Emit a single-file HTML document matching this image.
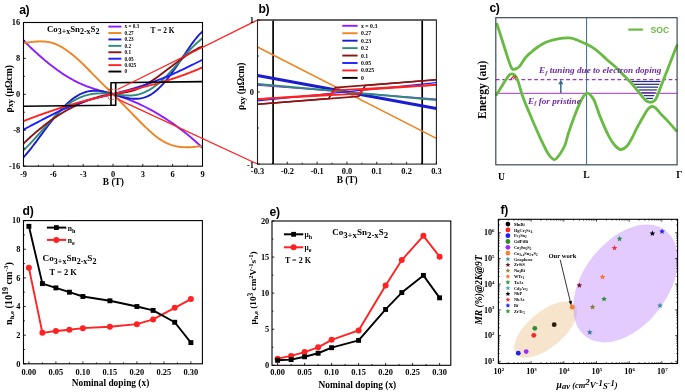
<!DOCTYPE html>
<html><head><meta charset="utf-8"><style>
html,body{margin:0;padding:0;background:#fff;width:685px;height:392px;overflow:hidden;}
svg{display:block;font-family:"Liberation Serif",serif;will-change:transform;}
</style></head><body>
<svg width="685" height="392" viewBox="0 0 685 392">
<defs>
<clipPath id="clipa"><rect x="23.5" y="22.5" width="179" height="143.7"/></clipPath>
<clipPath id="clipb"><rect x="257.5" y="20" width="178.9" height="144.1"/></clipPath>
</defs>
<rect width="685" height="392" fill="#fff"/>
<text x="19.2" y="14.3" font-family="'Liberation Sans', sans-serif" font-size="12.2" font-weight="bold" font-style="normal" text-anchor="start" fill="#000" letter-spacing="-0.4">a)</text>
<g clip-path="url(#clipa)">
<path d="M23.5,40.47 L24.49,41.47 L25.49,42.47 L26.48,43.45 L27.48,44.43 L28.47,45.4 L29.47,46.37 L30.46,47.32 L31.46,48.27 L32.45,49.21 L33.44,50.15 L34.44,51.07 L35.43,51.99 L36.43,52.9 L37.42,53.8 L38.42,54.7 L39.41,55.58 L40.41,56.46 L41.4,57.33 L42.39,58.19 L43.39,59.04 L44.38,59.88 L45.38,60.71 L46.37,61.54 L47.37,62.35 L48.36,63.16 L49.36,63.96 L50.35,64.75 L51.34,65.52 L52.34,66.29 L53.33,67.05 L54.33,67.8 L55.32,68.54 L56.32,69.27 L57.31,69.99 L58.31,70.69 L59.3,71.39 L60.29,72.08 L61.29,72.76 L62.28,73.43 L63.28,74.08 L64.27,74.73 L65.27,75.36 L66.26,75.98 L67.26,76.6 L68.25,77.2 L69.24,77.79 L70.24,78.37 L71.23,78.93 L72.23,79.49 L73.22,80.03 L74.22,80.56 L75.21,81.08 L76.21,81.59 L77.2,82.09 L78.19,82.57 L79.19,83.04 L80.18,83.5 L81.18,83.95 L82.17,84.38 L83.17,84.8 L84.16,85.22 L85.16,85.62 L86.15,86.01 L87.14,86.39 L88.14,86.76 L89.13,87.12 L90.13,87.47 L91.12,87.82 L92.12,88.16 L93.11,88.49 L94.11,88.81 L95.1,89.13 L96.09,89.45 L97.09,89.75 L98.08,90.06 L99.08,90.36 L100.07,90.65 L101.07,90.94 L102.06,91.23 L103.06,91.52 L104.05,91.8 L105.04,92.09 L106.04,92.37 L107.03,92.65 L108.03,92.93 L109.02,93.22 L110.02,93.5 L111.01,93.78 L112.01,94.07 L113,94.36 L113.99,94.65 L114.99,94.95 L115.98,95.24 L116.98,95.55 L117.97,95.85 L118.97,96.17 L119.96,96.48 L120.96,96.81 L121.95,97.14 L122.94,97.48 L123.94,97.82 L124.93,98.17 L125.93,98.53 L126.92,98.9 L127.92,99.27 L128.91,99.65 L129.91,100.04 L130.9,100.44 L131.89,100.84 L132.89,101.25 L133.88,101.67 L134.88,102.1 L135.87,102.53 L136.87,102.97 L137.86,103.41 L138.86,103.87 L139.85,104.33 L140.84,104.8 L141.84,105.27 L142.83,105.75 L143.83,106.24 L144.82,106.74 L145.82,107.24 L146.81,107.75 L147.81,108.27 L148.8,108.79 L149.79,109.32 L150.79,109.86 L151.78,110.4 L152.78,110.95 L153.77,111.51 L154.77,112.08 L155.76,112.65 L156.76,113.23 L157.75,113.81 L158.74,114.4 L159.74,115 L160.73,115.61 L161.73,116.22 L162.72,116.84 L163.72,117.46 L164.71,118.09 L165.71,118.73 L166.7,119.38 L167.69,120.03 L168.69,120.69 L169.68,121.35 L170.68,122.02 L171.67,122.7 L172.67,123.39 L173.66,124.08 L174.66,124.78 L175.65,125.49 L176.64,126.21 L177.64,126.93 L178.63,127.66 L179.63,128.4 L180.62,129.15 L181.62,129.91 L182.61,130.67 L183.61,131.45 L184.6,132.23 L185.59,133.02 L186.59,133.82 L187.58,134.63 L188.58,135.44 L189.57,136.27 L190.57,137.11 L191.56,137.95 L192.56,138.81 L193.55,139.67 L194.54,140.54 L195.54,141.43 L196.53,142.32 L197.53,143.23 L198.52,144.14 L199.52,145.07 L200.51,146 L201.51,146.95 L202.5,147.9 L202.5,147.9" stroke="#8f1cff" stroke-width="1.9" fill="none" stroke-linejoin="round"/>
<path d="M23.5,42.96 L24.49,42.84 L25.49,42.72 L26.48,42.6 L27.48,42.47 L28.47,42.35 L29.47,42.23 L30.46,42.11 L31.46,42 L32.45,41.9 L33.44,41.8 L34.44,41.71 L35.43,41.62 L36.43,41.55 L37.42,41.5 L38.42,41.45 L39.41,41.42 L40.41,41.41 L41.4,41.41 L42.39,41.43 L43.39,41.47 L44.38,41.53 L45.38,41.62 L46.37,41.73 L47.37,41.86 L48.36,42.02 L49.36,42.2 L50.35,42.42 L51.34,42.66 L52.34,42.93 L53.33,43.24 L54.33,43.58 L55.32,43.96 L56.32,44.36 L57.31,44.8 L58.31,45.27 L59.3,45.77 L60.29,46.3 L61.29,46.85 L62.28,47.44 L63.28,48.04 L64.27,48.68 L65.27,49.33 L66.26,50.01 L67.26,50.72 L68.25,51.44 L69.24,52.18 L70.24,52.94 L71.23,53.72 L72.23,54.52 L73.22,55.33 L74.22,56.16 L75.21,57 L76.21,57.86 L77.2,58.73 L78.19,59.62 L79.19,60.52 L80.18,61.44 L81.18,62.37 L82.17,63.32 L83.17,64.28 L84.16,65.26 L85.16,66.25 L86.15,67.24 L87.14,68.25 L88.14,69.26 L89.13,70.28 L90.13,71.29 L91.12,72.31 L92.12,73.33 L93.11,74.35 L94.11,75.36 L95.1,76.38 L96.09,77.39 L97.09,78.39 L98.08,79.4 L99.08,80.4 L100.07,81.39 L101.07,82.39 L102.06,83.38 L103.06,84.36 L104.05,85.34 L105.04,86.32 L106.04,87.3 L107.03,88.28 L108.03,89.26 L109.02,90.24 L110.02,91.22 L111.01,92.2 L112.01,93.19 L113,94.17 L113.99,95.17 L114.99,96.17 L115.98,97.17 L116.98,98.17 L117.97,99.18 L118.97,100.19 L119.96,101.2 L120.96,102.22 L121.95,103.24 L122.94,104.26 L123.94,105.28 L124.93,106.3 L125.93,107.32 L126.92,108.34 L127.92,109.37 L128.91,110.39 L129.91,111.41 L130.9,112.43 L131.89,113.45 L132.89,114.47 L133.88,115.49 L134.88,116.5 L135.87,117.51 L136.87,118.52 L137.86,119.53 L138.86,120.53 L139.85,121.53 L140.84,122.53 L141.84,123.52 L142.83,124.5 L143.83,125.48 L144.82,126.45 L145.82,127.41 L146.81,128.36 L147.81,129.3 L148.8,130.22 L149.79,131.13 L150.79,132.02 L151.78,132.9 L152.78,133.75 L153.77,134.59 L154.77,135.4 L155.76,136.2 L156.76,136.97 L157.75,137.71 L158.74,138.43 L159.74,139.12 L160.73,139.79 L161.73,140.42 L162.72,141.02 L163.72,141.59 L164.71,142.13 L165.71,142.63 L166.7,143.11 L167.69,143.55 L168.69,143.97 L169.68,144.36 L170.68,144.72 L171.67,145.06 L172.67,145.36 L173.66,145.65 L174.66,145.9 L175.65,146.14 L176.64,146.35 L177.64,146.53 L178.63,146.7 L179.63,146.84 L180.62,146.96 L181.62,147.07 L182.61,147.15 L183.61,147.22 L184.6,147.26 L185.59,147.29 L186.59,147.31 L187.58,147.3 L188.58,147.29 L189.57,147.25 L190.57,147.21 L191.56,147.15 L192.56,147.08 L193.55,146.99 L194.54,146.9 L195.54,146.8 L196.53,146.68 L197.53,146.56 L198.52,146.43 L199.52,146.29 L200.51,146.14 L201.51,145.99 L202.5,145.84 L202.5,145.84" stroke="#ef8424" stroke-width="1.9" fill="none" stroke-linejoin="round"/>
<path d="M23.5,157.24 L24.49,156.15 L25.49,155.04 L26.48,153.89 L27.48,152.72 L28.47,151.53 L29.47,150.31 L30.46,149.07 L31.46,147.82 L32.45,146.54 L33.44,145.25 L34.44,143.95 L35.43,142.63 L36.43,141.31 L37.42,139.97 L38.42,138.63 L39.41,137.28 L40.41,135.93 L41.4,134.58 L42.39,133.22 L43.39,131.87 L44.38,130.52 L45.38,129.18 L46.37,127.84 L47.37,126.51 L48.36,125.19 L49.36,123.88 L50.35,122.58 L51.34,121.3 L52.34,120.04 L53.33,118.79 L54.33,117.56 L55.32,116.35 L56.32,115.15 L57.31,113.98 L58.31,112.83 L59.3,111.7 L60.29,110.59 L61.29,109.5 L62.28,108.44 L63.28,107.4 L64.27,106.38 L65.27,105.4 L66.26,104.44 L67.26,103.5 L68.25,102.6 L69.24,101.72 L70.24,100.87 L71.23,100.06 L72.23,99.27 L73.22,98.52 L74.22,97.8 L75.21,97.12 L76.21,96.46 L77.2,95.85 L78.19,95.27 L79.19,94.72 L80.18,94.22 L81.18,93.75 L82.17,93.31 L83.17,92.92 L84.16,92.55 L85.16,92.23 L86.15,91.93 L87.14,91.67 L88.14,91.44 L89.13,91.25 L90.13,91.08 L91.12,90.95 L92.12,90.85 L93.11,90.77 L94.11,90.73 L95.1,90.71 L96.09,90.72 L97.09,90.76 L98.08,90.82 L99.08,90.91 L100.07,91.02 L101.07,91.16 L102.06,91.32 L103.06,91.51 L104.05,91.71 L105.04,91.93 L106.04,92.17 L107.03,92.42 L108.03,92.69 L109.02,92.96 L110.02,93.25 L111.01,93.54 L112.01,93.84 L113,94.14 L113.99,94.44 L114.99,94.75 L115.98,95.05 L116.98,95.36 L117.97,95.65 L118.97,95.95 L119.96,96.24 L120.96,96.51 L121.95,96.78 L122.94,97.04 L123.94,97.29 L124.93,97.53 L125.93,97.75 L126.92,97.95 L127.92,98.13 L128.91,98.3 L129.91,98.45 L130.9,98.57 L131.89,98.67 L132.89,98.75 L133.88,98.8 L134.88,98.82 L135.87,98.82 L136.87,98.78 L137.86,98.72 L138.86,98.62 L139.85,98.49 L140.84,98.33 L141.84,98.13 L142.83,97.89 L143.83,97.62 L144.82,97.31 L145.82,96.95 L146.81,96.56 L147.81,96.13 L148.8,95.65 L149.79,95.13 L150.79,94.57 L151.78,93.96 L152.78,93.3 L153.77,92.6 L154.77,91.84 L155.76,91.04 L156.76,90.2 L157.75,89.31 L158.74,88.38 L159.74,87.41 L160.73,86.4 L161.73,85.35 L162.72,84.27 L163.72,83.15 L164.71,82 L165.71,80.82 L166.7,79.61 L167.69,78.37 L168.69,77.1 L169.68,75.81 L170.68,74.49 L171.67,73.15 L172.67,71.79 L173.66,70.41 L174.66,69.02 L175.65,67.61 L176.64,66.18 L177.64,64.74 L178.63,63.29 L179.63,61.82 L180.62,60.35 L181.62,58.88 L182.61,57.39 L183.61,55.9 L184.6,54.42 L185.59,52.93 L186.59,51.46 L187.58,49.99 L188.58,48.54 L189.57,47.1 L190.57,45.68 L191.56,44.29 L192.56,42.92 L193.55,41.58 L194.54,40.28 L195.54,39.01 L196.53,37.78 L197.53,36.59 L198.52,35.45 L199.52,34.35 L200.51,33.31 L201.51,32.33 L202.5,31.4 L202.5,31.4" stroke="#1b1bd0" stroke-width="1.9" fill="none" stroke-linejoin="round"/>
<path d="M23.5,150.31 L24.49,149.35 L25.49,148.37 L26.48,147.38 L27.48,146.37 L28.47,145.34 L29.47,144.3 L30.46,143.25 L31.46,142.19 L32.45,141.11 L33.44,140.03 L34.44,138.94 L35.43,137.84 L36.43,136.74 L37.42,135.63 L38.42,134.51 L39.41,133.4 L40.41,132.28 L41.4,131.16 L42.39,130.04 L43.39,128.92 L44.38,127.8 L45.38,126.69 L46.37,125.58 L47.37,124.47 L48.36,123.37 L49.36,122.28 L50.35,121.2 L51.34,120.13 L52.34,119.06 L53.33,118.01 L54.33,116.97 L55.32,115.94 L56.32,114.93 L57.31,113.94 L58.31,112.96 L59.3,112 L60.29,111.05 L61.29,110.13 L62.28,109.23 L63.28,108.34 L64.27,107.49 L65.27,106.65 L66.26,105.84 L67.26,105.06 L68.25,104.3 L69.24,103.57 L70.24,102.87 L71.23,102.2 L72.23,101.56 L73.22,100.95 L74.22,100.37 L75.21,99.81 L76.21,99.28 L77.2,98.77 L78.19,98.3 L79.19,97.85 L80.18,97.42 L81.18,97.02 L82.17,96.64 L83.17,96.28 L84.16,95.95 L85.16,95.64 L86.15,95.35 L87.14,95.09 L88.14,94.84 L89.13,94.62 L90.13,94.41 L91.12,94.22 L92.12,94.06 L93.11,93.91 L94.11,93.78 L95.1,93.66 L96.09,93.57 L97.09,93.48 L98.08,93.42 L99.08,93.37 L100.07,93.33 L101.07,93.31 L102.06,93.31 L103.06,93.31 L104.05,93.33 L105.04,93.36 L106.04,93.4 L107.03,93.46 L108.03,93.52 L109.02,93.6 L110.02,93.68 L111.01,93.77 L112.01,93.88 L113,93.98 L113.99,94.1 L114.99,94.22 L115.98,94.35 L116.98,94.48 L117.97,94.61 L118.97,94.74 L119.96,94.86 L120.96,94.98 L121.95,95.1 L122.94,95.2 L123.94,95.29 L124.93,95.38 L125.93,95.45 L126.92,95.5 L127.92,95.53 L128.91,95.55 L129.91,95.55 L130.9,95.52 L131.89,95.47 L132.89,95.39 L133.88,95.28 L134.88,95.15 L135.87,94.98 L136.87,94.78 L137.86,94.56 L138.86,94.3 L139.85,94.01 L140.84,93.7 L141.84,93.36 L142.83,92.98 L143.83,92.58 L144.82,92.15 L145.82,91.69 L146.81,91.21 L147.81,90.69 L148.8,90.15 L149.79,89.58 L150.79,88.98 L151.78,88.36 L152.78,87.71 L153.77,87.03 L154.77,86.32 L155.76,85.59 L156.76,84.83 L157.75,84.04 L158.74,83.23 L159.74,82.39 L160.73,81.53 L161.73,80.64 L162.72,79.72 L163.72,78.78 L164.71,77.82 L165.71,76.83 L166.7,75.82 L167.69,74.79 L168.69,73.75 L169.68,72.68 L170.68,71.6 L171.67,70.51 L172.67,69.41 L173.66,68.3 L174.66,67.17 L175.65,66.04 L176.64,64.91 L177.64,63.77 L178.63,62.62 L179.63,61.48 L180.62,60.33 L181.62,59.19 L182.61,58.05 L183.61,56.92 L184.6,55.79 L185.59,54.67 L186.59,53.56 L187.58,52.46 L188.58,51.37 L189.57,50.3 L190.57,49.24 L191.56,48.2 L192.56,47.18 L193.55,46.17 L194.54,45.19 L195.54,44.24 L196.53,43.3 L197.53,42.4 L198.52,41.52 L199.52,40.67 L200.51,39.85 L201.51,39.07 L202.5,38.31 L202.5,38.31" stroke="#2f8a7c" stroke-width="1.9" fill="none" stroke-linejoin="round"/>
<path d="M23.5,143.57 L24.49,142.61 L25.49,141.65 L26.48,140.71 L27.48,139.78 L28.47,138.85 L29.47,137.94 L30.46,137.03 L31.46,136.13 L32.45,135.24 L33.44,134.36 L34.44,133.5 L35.43,132.64 L36.43,131.78 L37.42,130.94 L38.42,130.11 L39.41,129.29 L40.41,128.47 L41.4,127.67 L42.39,126.87 L43.39,126.09 L44.38,125.31 L45.38,124.54 L46.37,123.78 L47.37,123.03 L48.36,122.29 L49.36,121.56 L50.35,120.84 L51.34,120.13 L52.34,119.43 L53.33,118.73 L54.33,118.05 L55.32,117.37 L56.32,116.71 L57.31,116.05 L58.31,115.4 L59.3,114.76 L60.29,114.13 L61.29,113.51 L62.28,112.9 L63.28,112.3 L64.27,111.71 L65.27,111.12 L66.26,110.55 L67.26,109.99 L68.25,109.43 L69.24,108.88 L70.24,108.35 L71.23,107.82 L72.23,107.3 L73.22,106.79 L74.22,106.29 L75.21,105.8 L76.21,105.31 L77.2,104.84 L78.19,104.38 L79.19,103.92 L80.18,103.48 L81.18,103.04 L82.17,102.62 L83.17,102.2 L84.16,101.79 L85.16,101.39 L86.15,101 L87.14,100.62 L88.14,100.25 L89.13,99.88 L90.13,99.53 L91.12,99.18 L92.12,98.85 L93.11,98.52 L94.11,98.21 L95.1,97.9 L96.09,97.6 L97.09,97.31 L98.08,97.03 L99.08,96.76 L100.07,96.5 L101.07,96.24 L102.06,96 L103.06,95.77 L104.05,95.54 L105.04,95.32 L106.04,95.12 L107.03,94.92 L108.03,94.73 L109.02,94.55 L110.02,94.38 L111.01,94.22 L112.01,94.07 L113,93.92 L113.99,93.79 L114.99,93.66 L115.98,93.54 L116.98,93.42 L117.97,93.31 L118.97,93.19 L119.96,93.07 L120.96,92.95 L121.95,92.83 L122.94,92.7 L123.94,92.56 L124.93,92.41 L125.93,92.25 L126.92,92.07 L127.92,91.88 L128.91,91.67 L129.91,91.44 L130.9,91.19 L131.89,90.92 L132.89,90.63 L133.88,90.31 L134.88,89.96 L135.87,89.58 L136.87,89.18 L137.86,88.75 L138.86,88.3 L139.85,87.83 L140.84,87.34 L141.84,86.82 L142.83,86.29 L143.83,85.75 L144.82,85.19 L145.82,84.61 L146.81,84.02 L147.81,83.41 L148.8,82.8 L149.79,82.17 L150.79,81.53 L151.78,80.87 L152.78,80.21 L153.77,79.54 L154.77,78.85 L155.76,78.16 L156.76,77.46 L157.75,76.75 L158.74,76.03 L159.74,75.31 L160.73,74.58 L161.73,73.84 L162.72,73.1 L163.72,72.35 L164.71,71.6 L165.71,70.84 L166.7,70.09 L167.69,69.33 L168.69,68.57 L169.68,67.8 L170.68,67.04 L171.67,66.28 L172.67,65.52 L173.66,64.76 L174.66,64 L175.65,63.25 L176.64,62.49 L177.64,61.75 L178.63,61.01 L179.63,60.27 L180.62,59.54 L181.62,58.82 L182.61,58.1 L183.61,57.39 L184.6,56.69 L185.59,56.01 L186.59,55.33 L187.58,54.66 L188.58,54 L189.57,53.36 L190.57,52.72 L191.56,52.1 L192.56,51.5 L193.55,50.91 L194.54,50.33 L195.54,49.78 L196.53,49.23 L197.53,48.71 L198.52,48.2 L199.52,47.71 L200.51,47.24 L201.51,46.79 L202.5,46.36 L202.5,46.36" stroke="#8c1414" stroke-width="1.9" fill="none" stroke-linejoin="round"/>
<path d="M23.5,129.54 L24.49,129.04 L25.49,128.53 L26.48,128.02 L27.48,127.51 L28.47,126.99 L29.47,126.47 L30.46,125.96 L31.46,125.44 L32.45,124.92 L33.44,124.4 L34.44,123.88 L35.43,123.35 L36.43,122.83 L37.42,122.31 L38.42,121.79 L39.41,121.26 L40.41,120.74 L41.4,120.22 L42.39,119.7 L43.39,119.18 L44.38,118.67 L45.38,118.15 L46.37,117.64 L47.37,117.13 L48.36,116.62 L49.36,116.11 L50.35,115.6 L51.34,115.1 L52.34,114.6 L53.33,114.1 L54.33,113.61 L55.32,113.12 L56.32,112.64 L57.31,112.15 L58.31,111.68 L59.3,111.2 L60.29,110.73 L61.29,110.27 L62.28,109.81 L63.28,109.35 L64.27,108.9 L65.27,108.46 L66.26,108.02 L67.26,107.59 L68.25,107.16 L69.24,106.74 L70.24,106.33 L71.23,105.92 L72.23,105.52 L73.22,105.12 L74.22,104.74 L75.21,104.36 L76.21,103.99 L77.2,103.62 L78.19,103.27 L79.19,102.92 L80.18,102.58 L81.18,102.25 L82.17,101.93 L83.17,101.61 L84.16,101.31 L85.16,101 L86.15,100.71 L87.14,100.42 L88.14,100.14 L89.13,99.86 L90.13,99.59 L91.12,99.32 L92.12,99.06 L93.11,98.8 L94.11,98.55 L95.1,98.3 L96.09,98.05 L97.09,97.81 L98.08,97.57 L99.08,97.33 L100.07,97.09 L101.07,96.86 L102.06,96.62 L103.06,96.39 L104.05,96.16 L105.04,95.93 L106.04,95.69 L107.03,95.46 L108.03,95.23 L109.02,95 L110.02,94.76 L111.01,94.53 L112.01,94.29 L113,94.05 L113.99,93.8 L114.99,93.56 L115.98,93.31 L116.98,93.06 L117.97,92.8 L118.97,92.55 L119.96,92.29 L120.96,92.03 L121.95,91.76 L122.94,91.5 L123.94,91.23 L124.93,90.95 L125.93,90.68 L126.92,90.4 L127.92,90.12 L128.91,89.83 L129.91,89.54 L130.9,89.25 L131.89,88.96 L132.89,88.66 L133.88,88.37 L134.88,88.06 L135.87,87.76 L136.87,87.45 L137.86,87.14 L138.86,86.82 L139.85,86.5 L140.84,86.18 L141.84,85.86 L142.83,85.53 L143.83,85.2 L144.82,84.87 L145.82,84.53 L146.81,84.19 L147.81,83.84 L148.8,83.49 L149.79,83.14 L150.79,82.79 L151.78,82.43 L152.78,82.07 L153.77,81.71 L154.77,81.34 L155.76,80.97 L156.76,80.59 L157.75,80.21 L158.74,79.83 L159.74,79.44 L160.73,79.05 L161.73,78.66 L162.72,78.26 L163.72,77.86 L164.71,77.46 L165.71,77.05 L166.7,76.64 L167.69,76.22 L168.69,75.8 L169.68,75.38 L170.68,74.95 L171.67,74.52 L172.67,74.08 L173.66,73.64 L174.66,73.2 L175.65,72.75 L176.64,72.3 L177.64,71.85 L178.63,71.39 L179.63,70.93 L180.62,70.47 L181.62,70 L182.61,69.54 L183.61,69.06 L184.6,68.59 L185.59,68.11 L186.59,67.64 L187.58,67.15 L188.58,66.67 L189.57,66.19 L190.57,65.7 L191.56,65.21 L192.56,64.72 L193.55,64.23 L194.54,63.74 L195.54,63.25 L196.53,62.75 L197.53,62.26 L198.52,61.76 L199.52,61.26 L200.51,60.77 L201.51,60.27 L202.5,59.77 L202.5,59.77" stroke="#1e1eff" stroke-width="1.9" fill="none" stroke-linejoin="round"/>
<path d="M23.5,121.05 L24.49,120.67 L25.49,120.29 L26.48,119.91 L27.48,119.53 L28.47,119.16 L29.47,118.78 L30.46,118.41 L31.46,118.04 L32.45,117.67 L33.44,117.3 L34.44,116.93 L35.43,116.57 L36.43,116.21 L37.42,115.84 L38.42,115.48 L39.41,115.12 L40.41,114.77 L41.4,114.41 L42.39,114.06 L43.39,113.71 L44.38,113.36 L45.38,113.01 L46.37,112.66 L47.37,112.32 L48.36,111.98 L49.36,111.63 L50.35,111.3 L51.34,110.96 L52.34,110.62 L53.33,110.29 L54.33,109.96 L55.32,109.63 L56.32,109.3 L57.31,108.98 L58.31,108.66 L59.3,108.33 L60.29,108.02 L61.29,107.7 L62.28,107.38 L63.28,107.07 L64.27,106.76 L65.27,106.45 L66.26,106.15 L67.26,105.84 L68.25,105.54 L69.24,105.24 L70.24,104.95 L71.23,104.65 L72.23,104.36 L73.22,104.07 L74.22,103.79 L75.21,103.5 L76.21,103.22 L77.2,102.94 L78.19,102.66 L79.19,102.39 L80.18,102.11 L81.18,101.84 L82.17,101.58 L83.17,101.31 L84.16,101.05 L85.16,100.79 L86.15,100.53 L87.14,100.27 L88.14,100.02 L89.13,99.77 L90.13,99.52 L91.12,99.27 L92.12,99.02 L93.11,98.78 L94.11,98.53 L95.1,98.29 L96.09,98.05 L97.09,97.81 L98.08,97.57 L99.08,97.33 L100.07,97.1 L101.07,96.86 L102.06,96.63 L103.06,96.4 L104.05,96.17 L105.04,95.94 L106.04,95.71 L107.03,95.48 L108.03,95.25 L109.02,95.02 L110.02,94.79 L111.01,94.57 L112.01,94.34 L113,94.11 L113.99,93.89 L114.99,93.66 L115.98,93.44 L116.98,93.21 L117.97,92.98 L118.97,92.76 L119.96,92.53 L120.96,92.31 L121.95,92.08 L122.94,91.85 L123.94,91.63 L124.93,91.4 L125.93,91.17 L126.92,90.94 L127.92,90.71 L128.91,90.48 L129.91,90.25 L130.9,90.02 L131.89,89.79 L132.89,89.56 L133.88,89.32 L134.88,89.09 L135.87,88.85 L136.87,88.61 L137.86,88.37 L138.86,88.13 L139.85,87.89 L140.84,87.65 L141.84,87.41 L142.83,87.16 L143.83,86.91 L144.82,86.66 L145.82,86.41 L146.81,86.16 L147.81,85.91 L148.8,85.65 L149.79,85.39 L150.79,85.13 L151.78,84.87 L152.78,84.6 L153.77,84.34 L154.77,84.07 L155.76,83.79 L156.76,83.52 L157.75,83.24 L158.74,82.97 L159.74,82.68 L160.73,82.4 L161.73,82.11 L162.72,81.82 L163.72,81.53 L164.71,81.23 L165.71,80.94 L166.7,80.63 L167.69,80.33 L168.69,80.02 L169.68,79.71 L170.68,79.4 L171.67,79.08 L172.67,78.76 L173.66,78.43 L174.66,78.11 L175.65,77.78 L176.64,77.44 L177.64,77.1 L178.63,76.76 L179.63,76.41 L180.62,76.06 L181.62,75.71 L182.61,75.35 L183.61,74.99 L184.6,74.63 L185.59,74.26 L186.59,73.88 L187.58,73.51 L188.58,73.13 L189.57,72.74 L190.57,72.35 L191.56,71.96 L192.56,71.56 L193.55,71.16 L194.54,70.75 L195.54,70.34 L196.53,69.93 L197.53,69.51 L198.52,69.08 L199.52,68.65 L200.51,68.22 L201.51,67.78 L202.5,67.34 L202.5,67.34" stroke="#ff2222" stroke-width="1.9" fill="none" stroke-linejoin="round"/>
<path d="M23.5,106.3 L111,105.2 L111,82.7 L202.5,81.6 M111,105.2 L115.7,105.2 L115.7,82.7 L111,82.7" stroke="#000" stroke-width="1.6" fill="none" stroke-linejoin="round"/>
</g>
<rect x="108.4" y="89.3" width="9.7" height="10.1" fill="none" stroke="#ff2020" stroke-width="0.8" stroke-dasharray="1.6,1.4"/>
<rect x="23.5" y="22.5" width="179" height="143.7" fill="none" stroke="#000" stroke-width="1.1"/>
<line x1="23.5" y1="166.2" x2="23.5" y2="163.8" stroke="#000" stroke-width="0.8" />
<line x1="38.42" y1="166.2" x2="38.42" y2="164.8" stroke="#000" stroke-width="0.8" />
<line x1="53.33" y1="166.2" x2="53.33" y2="163.8" stroke="#000" stroke-width="0.8" />
<line x1="68.25" y1="166.2" x2="68.25" y2="164.8" stroke="#000" stroke-width="0.8" />
<line x1="83.17" y1="166.2" x2="83.17" y2="163.8" stroke="#000" stroke-width="0.8" />
<line x1="98.08" y1="166.2" x2="98.08" y2="164.8" stroke="#000" stroke-width="0.8" />
<line x1="113" y1="166.2" x2="113" y2="163.8" stroke="#000" stroke-width="0.8" />
<line x1="127.92" y1="166.2" x2="127.92" y2="164.8" stroke="#000" stroke-width="0.8" />
<line x1="142.83" y1="166.2" x2="142.83" y2="163.8" stroke="#000" stroke-width="0.8" />
<line x1="157.75" y1="166.2" x2="157.75" y2="164.8" stroke="#000" stroke-width="0.8" />
<line x1="172.67" y1="166.2" x2="172.67" y2="163.8" stroke="#000" stroke-width="0.8" />
<line x1="187.58" y1="166.2" x2="187.58" y2="164.8" stroke="#000" stroke-width="0.8" />
<line x1="202.5" y1="166.2" x2="202.5" y2="163.8" stroke="#000" stroke-width="0.8" />
<line x1="23.5" y1="22.46" x2="25.9" y2="22.46" stroke="#000" stroke-width="0.8" />
<line x1="23.5" y1="40.42" x2="24.9" y2="40.42" stroke="#000" stroke-width="0.8" />
<line x1="23.5" y1="58.38" x2="25.9" y2="58.38" stroke="#000" stroke-width="0.8" />
<line x1="23.5" y1="76.34" x2="24.9" y2="76.34" stroke="#000" stroke-width="0.8" />
<line x1="23.5" y1="94.3" x2="25.9" y2="94.3" stroke="#000" stroke-width="0.8" />
<line x1="23.5" y1="112.26" x2="24.9" y2="112.26" stroke="#000" stroke-width="0.8" />
<line x1="23.5" y1="130.22" x2="25.9" y2="130.22" stroke="#000" stroke-width="0.8" />
<line x1="23.5" y1="148.18" x2="24.9" y2="148.18" stroke="#000" stroke-width="0.8" />
<line x1="23.5" y1="166.14" x2="25.9" y2="166.14" stroke="#000" stroke-width="0.8" />
<text x="23.5" y="177.2" font-family="'Liberation Serif', serif" font-size="8.4" font-weight="bold" font-style="normal" text-anchor="middle" fill="#000" >-9</text>
<text x="53.33" y="177.2" font-family="'Liberation Serif', serif" font-size="8.4" font-weight="bold" font-style="normal" text-anchor="middle" fill="#000" >-6</text>
<text x="83.17" y="177.2" font-family="'Liberation Serif', serif" font-size="8.4" font-weight="bold" font-style="normal" text-anchor="middle" fill="#000" >-3</text>
<text x="113" y="177.2" font-family="'Liberation Serif', serif" font-size="8.4" font-weight="bold" font-style="normal" text-anchor="middle" fill="#000" >0</text>
<text x="142.83" y="177.2" font-family="'Liberation Serif', serif" font-size="8.4" font-weight="bold" font-style="normal" text-anchor="middle" fill="#000" >3</text>
<text x="172.67" y="177.2" font-family="'Liberation Serif', serif" font-size="8.4" font-weight="bold" font-style="normal" text-anchor="middle" fill="#000" >6</text>
<text x="202.5" y="177.2" font-family="'Liberation Serif', serif" font-size="8.4" font-weight="bold" font-style="normal" text-anchor="middle" fill="#000" >9</text>
<text x="20.2" y="25.16" font-family="'Liberation Serif', serif" font-size="8.4" font-weight="bold" font-style="normal" text-anchor="end" fill="#000" >16</text>
<text x="20.2" y="61.08" font-family="'Liberation Serif', serif" font-size="8.4" font-weight="bold" font-style="normal" text-anchor="end" fill="#000" >8</text>
<text x="20.2" y="97" font-family="'Liberation Serif', serif" font-size="8.4" font-weight="bold" font-style="normal" text-anchor="end" fill="#000" >0</text>
<text x="20.2" y="132.92" font-family="'Liberation Serif', serif" font-size="8.4" font-weight="bold" font-style="normal" text-anchor="end" fill="#000" >-8</text>
<text x="20.2" y="168.84" font-family="'Liberation Serif', serif" font-size="8.4" font-weight="bold" font-style="normal" text-anchor="end" fill="#000" >-16</text>
<text x="113.4" y="184.9" font-family="'Liberation Serif', serif" font-size="9.4" font-weight="bold" font-style="normal" text-anchor="middle" fill="#000" >B (T)</text>
<text transform="translate(11.6,88.7) rotate(-90)" font-family="'Liberation Serif', serif" font-size="9.6" font-weight="bold" text-anchor="middle">&#961;<tspan font-size="8.2" dy="1.4">xy</tspan><tspan dy="-1.4"> (&#956;&#937;cm)</tspan></text>
<text x="47" y="32.0" font-family="'Liberation Serif', serif" font-size="8.8" font-weight="bold">Co<tspan font-size="7.9" dy="2.3">3+x</tspan><tspan dy="-2.3">Sn</tspan><tspan font-size="7.9" dy="2.3">2-x</tspan><tspan dy="-2.3">S</tspan><tspan font-size="7.9" dy="2.3">2</tspan></text>
<text x="150.5" y="32.6" font-family="'Liberation Serif', serif" font-size="7.4" font-weight="bold" font-style="normal" text-anchor="start" fill="#000" >T = 2 K</text>
<line x1="108.4" y1="26.6" x2="121.4" y2="26.6" stroke="#8f1cff" stroke-width="1.9" />
<text x="124.5" y="28.4" font-family="'Liberation Serif', serif" font-size="5.2" font-weight="bold" font-style="normal" text-anchor="start" fill="#000" >x = 0.3</text>
<line x1="108.4" y1="33.02" x2="121.4" y2="33.02" stroke="#ef8424" stroke-width="1.9" />
<text x="124.5" y="34.82" font-family="'Liberation Serif', serif" font-size="5.2" font-weight="bold" font-style="normal" text-anchor="start" fill="#000" >0.27</text>
<line x1="108.4" y1="39.44" x2="121.4" y2="39.44" stroke="#1b1bd0" stroke-width="1.9" />
<text x="124.5" y="41.24" font-family="'Liberation Serif', serif" font-size="5.2" font-weight="bold" font-style="normal" text-anchor="start" fill="#000" >0.23</text>
<line x1="108.4" y1="45.86" x2="121.4" y2="45.86" stroke="#2f8a7c" stroke-width="1.9" />
<text x="124.5" y="47.66" font-family="'Liberation Serif', serif" font-size="5.2" font-weight="bold" font-style="normal" text-anchor="start" fill="#000" >0.2</text>
<line x1="108.4" y1="52.28" x2="121.4" y2="52.28" stroke="#8c1414" stroke-width="1.9" />
<text x="124.5" y="54.08" font-family="'Liberation Serif', serif" font-size="5.2" font-weight="bold" font-style="normal" text-anchor="start" fill="#000" >0.1</text>
<line x1="108.4" y1="58.7" x2="121.4" y2="58.7" stroke="#1e1eff" stroke-width="1.9" />
<text x="124.5" y="60.5" font-family="'Liberation Serif', serif" font-size="5.2" font-weight="bold" font-style="normal" text-anchor="start" fill="#000" >0.05</text>
<line x1="108.4" y1="65.12" x2="121.4" y2="65.12" stroke="#ff2222" stroke-width="1.9" />
<text x="124.5" y="66.92" font-family="'Liberation Serif', serif" font-size="5.2" font-weight="bold" font-style="normal" text-anchor="start" fill="#000" >0.025</text>
<line x1="108.4" y1="71.54" x2="121.4" y2="71.54" stroke="#000" stroke-width="1.9" />
<text x="124.5" y="73.34" font-family="'Liberation Serif', serif" font-size="5.2" font-weight="bold" font-style="normal" text-anchor="start" fill="#000" >0</text>
<line x1="118.1" y1="89.3" x2="257.5" y2="20" stroke="#ff1e1e" stroke-width="1.2" />
<line x1="118.1" y1="99.4" x2="257.5" y2="164" stroke="#ff1e1e" stroke-width="1.2" />
<text x="258.4" y="12.6" font-family="'Liberation Sans', sans-serif" font-size="12.2" font-weight="bold" font-style="normal" text-anchor="start" fill="#000" letter-spacing="-0.4">b)</text>
<g clip-path="url(#clipb)">
<line x1="273.1" y1="20" x2="273.1" y2="164.1" stroke="#000" stroke-width="1.7" />
<line x1="422.2" y1="20" x2="422.2" y2="164.1" stroke="#000" stroke-width="1.7" />
<line x1="257.5" y1="47" x2="436.4" y2="138.4" stroke="#ef8424" stroke-width="1.6" />
<line x1="257.5" y1="75.4" x2="436.4" y2="108.4" stroke="#1b1bd0" stroke-width="3" />
<line x1="257.5" y1="85.3" x2="436.4" y2="99" stroke="#8f1cff" stroke-width="1" />
<line x1="257.5" y1="84" x2="436.4" y2="100" stroke="#2f8a7c" stroke-width="2" />
<line x1="257.5" y1="100.9" x2="436.4" y2="82.6" stroke="#1e1eff" stroke-width="1.3" />
<path d="M257.5,104.2 L358.8,96.4 L365.2,85.5 L436.4,79.8" stroke="#8c1414" stroke-width="1.6" fill="none" stroke-linejoin="round"/>
<path d="M436.4,79.8 L335.1,87.6 L328.7,98.5 L257.5,104.2" stroke="#8c1414" stroke-width="1.6" fill="none" stroke-linejoin="round"/>
<path d="M257.5,99.1 L359,93.6 L363,89.8 L436.4,84.9" stroke="#ff2222" stroke-width="1.9" fill="none" stroke-linejoin="round"/>
<path d="M436.4,84.9 L334.9,90.4 L330.9,94.2 L257.5,99.1" stroke="#ff2222" stroke-width="1.9" fill="none" stroke-linejoin="round"/>
</g>
<rect x="257.5" y="20" width="178.9" height="144.1" fill="none" stroke="#222" stroke-width="1.1"/>
<line x1="257.5" y1="20" x2="436.4" y2="20" stroke="#5a5a5a" stroke-width="1.3" />
<line x1="257.5" y1="164.1" x2="257.5" y2="161.7" stroke="#000" stroke-width="0.8" />
<line x1="272.41" y1="164.1" x2="272.41" y2="162.7" stroke="#000" stroke-width="0.8" />
<line x1="287.32" y1="164.1" x2="287.32" y2="161.7" stroke="#000" stroke-width="0.8" />
<line x1="302.23" y1="164.1" x2="302.23" y2="162.7" stroke="#000" stroke-width="0.8" />
<line x1="317.13" y1="164.1" x2="317.13" y2="161.7" stroke="#000" stroke-width="0.8" />
<line x1="332.04" y1="164.1" x2="332.04" y2="162.7" stroke="#000" stroke-width="0.8" />
<line x1="346.95" y1="164.1" x2="346.95" y2="161.7" stroke="#000" stroke-width="0.8" />
<line x1="361.86" y1="164.1" x2="361.86" y2="162.7" stroke="#000" stroke-width="0.8" />
<line x1="376.77" y1="164.1" x2="376.77" y2="161.7" stroke="#000" stroke-width="0.8" />
<line x1="391.68" y1="164.1" x2="391.68" y2="162.7" stroke="#000" stroke-width="0.8" />
<line x1="406.58" y1="164.1" x2="406.58" y2="161.7" stroke="#000" stroke-width="0.8" />
<line x1="421.49" y1="164.1" x2="421.49" y2="162.7" stroke="#000" stroke-width="0.8" />
<line x1="436.4" y1="164.1" x2="436.4" y2="161.7" stroke="#000" stroke-width="0.8" />
<line x1="257.5" y1="20" x2="259.9" y2="20" stroke="#000" stroke-width="0.8" />
<line x1="257.5" y1="56" x2="258.9" y2="56" stroke="#000" stroke-width="0.8" />
<line x1="257.5" y1="92" x2="259.9" y2="92" stroke="#000" stroke-width="0.8" />
<line x1="257.5" y1="128" x2="258.9" y2="128" stroke="#000" stroke-width="0.8" />
<line x1="257.5" y1="164" x2="259.9" y2="164" stroke="#000" stroke-width="0.8" />
<text x="257.5" y="173.8" font-family="'Liberation Serif', serif" font-size="8.4" font-weight="bold" font-style="normal" text-anchor="middle" fill="#000" >-0.3</text>
<text x="287.32" y="173.8" font-family="'Liberation Serif', serif" font-size="8.4" font-weight="bold" font-style="normal" text-anchor="middle" fill="#000" >-0.2</text>
<text x="317.13" y="173.8" font-family="'Liberation Serif', serif" font-size="8.4" font-weight="bold" font-style="normal" text-anchor="middle" fill="#000" >-0.1</text>
<text x="346.95" y="173.8" font-family="'Liberation Serif', serif" font-size="8.4" font-weight="bold" font-style="normal" text-anchor="middle" fill="#000" >0.0</text>
<text x="376.77" y="173.8" font-family="'Liberation Serif', serif" font-size="8.4" font-weight="bold" font-style="normal" text-anchor="middle" fill="#000" >0.1</text>
<text x="406.58" y="173.8" font-family="'Liberation Serif', serif" font-size="8.4" font-weight="bold" font-style="normal" text-anchor="middle" fill="#000" >0.2</text>
<text x="436.4" y="173.8" font-family="'Liberation Serif', serif" font-size="8.4" font-weight="bold" font-style="normal" text-anchor="middle" fill="#000" >0.3</text>
<text x="253.9" y="22.8" font-family="'Liberation Serif', serif" font-size="8.4" font-weight="bold" font-style="normal" text-anchor="end" fill="#000" >1</text>
<text x="253.9" y="94.8" font-family="'Liberation Serif', serif" font-size="8.4" font-weight="bold" font-style="normal" text-anchor="end" fill="#000" >0</text>
<text x="253.9" y="167.6" font-family="'Liberation Serif', serif" font-size="8.4" font-weight="bold" font-style="normal" text-anchor="end" fill="#000" >-1</text>
<text x="347.2" y="183" font-family="'Liberation Serif', serif" font-size="9.4" font-weight="bold" font-style="normal" text-anchor="middle" fill="#000" >B (T)</text>
<text transform="translate(243.6,86.2) rotate(-90)" font-family="'Liberation Serif', serif" font-size="9.6" font-weight="bold" text-anchor="middle">&#961;<tspan font-size="8.2" dy="1.4">xy</tspan><tspan dy="-1.4"> (&#956;&#937;cm)</tspan></text>
<line x1="342.3" y1="25.8" x2="357.6" y2="25.8" stroke="#8f1cff" stroke-width="1.9" />
<text x="361" y="27.8" font-family="'Liberation Serif', serif" font-size="5.8" font-weight="bold" font-style="normal" text-anchor="start" fill="#000" >x = 0.3</text>
<line x1="342.3" y1="33.24" x2="357.6" y2="33.24" stroke="#ef8424" stroke-width="1.9" />
<text x="361" y="35.24" font-family="'Liberation Serif', serif" font-size="5.8" font-weight="bold" font-style="normal" text-anchor="start" fill="#000" >0.27</text>
<line x1="342.3" y1="40.68" x2="357.6" y2="40.68" stroke="#1b1bd0" stroke-width="1.9" />
<text x="361" y="42.68" font-family="'Liberation Serif', serif" font-size="5.8" font-weight="bold" font-style="normal" text-anchor="start" fill="#000" >0.23</text>
<line x1="342.3" y1="48.12" x2="357.6" y2="48.12" stroke="#2f8a7c" stroke-width="1.9" />
<text x="361" y="50.12" font-family="'Liberation Serif', serif" font-size="5.8" font-weight="bold" font-style="normal" text-anchor="start" fill="#000" >0.2</text>
<line x1="342.3" y1="55.56" x2="357.6" y2="55.56" stroke="#8c1414" stroke-width="1.9" />
<text x="361" y="57.56" font-family="'Liberation Serif', serif" font-size="5.8" font-weight="bold" font-style="normal" text-anchor="start" fill="#000" >0.1</text>
<line x1="342.3" y1="63" x2="357.6" y2="63" stroke="#1e1eff" stroke-width="1.9" />
<text x="361" y="65" font-family="'Liberation Serif', serif" font-size="5.8" font-weight="bold" font-style="normal" text-anchor="start" fill="#000" >0.05</text>
<line x1="342.3" y1="70.44" x2="357.6" y2="70.44" stroke="#ff2222" stroke-width="1.9" />
<text x="361" y="72.44" font-family="'Liberation Serif', serif" font-size="5.8" font-weight="bold" font-style="normal" text-anchor="start" fill="#000" >0.025</text>
<line x1="342.3" y1="77.88" x2="357.6" y2="77.88" stroke="#000" stroke-width="1.9" />
<text x="361" y="79.88" font-family="'Liberation Serif', serif" font-size="5.8" font-weight="bold" font-style="normal" text-anchor="start" fill="#000" >0</text>
<text x="489.4" y="11.8" font-family="'Liberation Sans', sans-serif" font-size="12.2" font-weight="bold" font-style="normal" text-anchor="start" fill="#000" letter-spacing="-0.4">c)</text>
<line x1="631.3" y1="81.5" x2="660.6" y2="81.5" stroke="#27307e" stroke-width="1.25" />
<line x1="633.79" y1="84.32" x2="659.35" y2="84.32" stroke="#27307e" stroke-width="1.25" />
<line x1="636.27" y1="87.14" x2="658.1" y2="87.14" stroke="#27307e" stroke-width="1.25" />
<line x1="638.76" y1="89.96" x2="656.85" y2="89.96" stroke="#27307e" stroke-width="1.25" />
<line x1="641.25" y1="92.78" x2="655.59" y2="92.78" stroke="#27307e" stroke-width="1.25" />
<line x1="643.73" y1="95.6" x2="654.34" y2="95.6" stroke="#27307e" stroke-width="1.25" />
<line x1="646.22" y1="98.42" x2="653.09" y2="98.42" stroke="#27307e" stroke-width="1.25" />
<line x1="495.8" y1="79.6" x2="677.1" y2="79.6" stroke="#a035c4" stroke-width="1.1" stroke-dasharray="3.8,2.6"/>
<line x1="495.8" y1="93.3" x2="677.1" y2="93.3" stroke="#a035c4" stroke-width="1" />
<line x1="586.6" y1="17.7" x2="586.6" y2="164.8" stroke="#3b6a8c" stroke-width="1" />
<path d="M497,24.1 C497.58,25.92 499.33,31.35 500.5,35 C501.67,38.65 502.83,42.33 504,46 C505.17,49.67 506.45,53.78 507.5,57 C508.55,60.22 509.45,63.27 510.3,65.3 C511.15,67.33 511.68,68.62 512.6,69.2 C513.52,69.78 514.65,69.28 515.8,68.8 C516.95,68.32 517.85,68.2 519.5,66.3 C521.15,64.4 523.7,59.78 525.7,57.4 C527.7,55.02 529.72,53.57 531.5,52 C533.28,50.43 534.73,49.23 536.4,48 C538.07,46.77 539.7,45.65 541.5,44.6 C543.3,43.55 544.47,42.65 547.2,41.7 C549.93,40.75 554.33,39.53 557.9,38.9 C561.47,38.27 565.7,37.83 568.6,37.9 C571.5,37.97 573.2,38.65 575.3,39.3 C577.4,39.95 579.28,40.97 581.2,41.8 C583.12,42.63 584.73,43.23 586.8,44.3 C588.87,45.37 591.4,46.7 593.6,48.2 C595.8,49.7 597.95,51.53 600,53.3 C602.05,55.07 603.4,56.6 605.9,58.8 C608.4,61 611.95,63.68 615,66.5 C618.05,69.32 621.38,72.83 624.2,75.7 C627.02,78.57 629.43,80.9 631.9,83.7 C634.37,86.5 636.9,89.92 639,92.5 C641.1,95.08 642.92,97.63 644.5,99.2 C646.08,100.77 647.17,101.45 648.5,101.9 C649.83,102.35 651.32,102.28 652.5,101.9 C653.68,101.52 654.58,101.17 655.6,99.6 C656.62,98.03 657.53,95.18 658.6,92.5 C659.67,89.82 660.53,87.25 662,83.5 C663.47,79.75 665.73,74.25 667.4,70 C669.07,65.75 670.42,62.07 672,58 C673.58,53.93 676.08,47.67 676.9,45.6" stroke="#68bb42" stroke-width="2.8" fill="none" stroke-linejoin="round" stroke-linecap="round"/>
<path d="M496.5,94.7 C497.25,93.5 499.5,89.9 501,87.5 C502.5,85.1 504.18,82.32 505.5,80.3 C506.82,78.28 507.85,76.47 508.9,75.4 C509.95,74.33 510.82,73.93 511.8,73.9 C512.78,73.87 513.8,74.1 514.8,75.2 C515.8,76.3 516.43,76.82 517.8,80.5 C519.17,84.18 520.68,90.97 523,97.3 C525.32,103.63 528.8,111.67 531.7,118.5 C534.6,125.33 537.68,132.47 540.4,138.3 C543.12,144.13 545.67,149.95 548,153.5 C550.33,157.05 552.4,159.52 554.4,159.6 C556.4,159.68 558.23,156.43 560,154 C561.77,151.57 563.58,148.5 565,145 C566.42,141.5 566.83,138.05 568.5,133 C570.17,127.95 572.82,120.28 575,114.7 C577.18,109.12 579.6,103.1 581.6,99.5 C583.6,95.9 584.98,93.1 587,93.1 C589.02,93.1 591.5,95.53 593.7,99.5 C595.9,103.47 597.67,110.75 600.2,116.9 C602.73,123.05 606.43,131.63 608.9,136.4 C611.37,141.17 613.02,143.32 615,145.5 C616.98,147.68 618.8,149.42 620.8,149.5 C622.8,149.58 625.13,147.92 627,146 C628.87,144.08 630.32,141.05 632,138 C633.68,134.95 634.82,131.95 637.1,127.7 C639.38,123.45 643.75,115.75 645.7,112.5 C647.65,109.25 647.7,109.22 648.8,108.2 C649.9,107.18 651.18,106.47 652.3,106.4 C653.42,106.33 654.47,107 655.5,107.8 C656.53,108.6 657.5,110.05 658.5,111.2 C659.5,112.35 660.02,113.13 661.5,114.7 C662.98,116.27 664.95,117.95 667.4,120.6 C669.85,123.25 674.73,128.93 676.2,130.6" stroke="#68bb42" stroke-width="2.8" fill="none" stroke-linejoin="round" stroke-linecap="round"/>
<line x1="510.8" y1="79" x2="514.2" y2="75.6" stroke="#cc1f1f" stroke-width="1.1" />
<line x1="513.4" y1="79.2" x2="516.4" y2="76.2" stroke="#cc1f1f" stroke-width="1.1" />
<rect x="495.8" y="17.7" width="181.3" height="147.1" fill="none" stroke="#3c4a58" stroke-width="1.2"/>
<line x1="560.8" y1="93" x2="560.8" y2="83.5" stroke="#3b6a8c" stroke-width="1.5" />
<path d="M558.2,84.2 L560.8,79.8 L563.4,84.2 Z" fill="#3b6a8c"/>
<text x="539" y="73" font-family="'Liberation Serif', serif" font-size="9.2" font-weight="bold" font-style="italic" fill="#6e2ca6">E<tspan font-size="6.6" dy="1.6">f</tspan><tspan dy="-1.6"> tuning due to electron doping</tspan></text>
<text x="528" y="103.5" font-family="'Liberation Serif', serif" font-size="9.2" font-weight="bold" font-style="italic" fill="#6e2ca6">E<tspan font-size="6.6" dy="1.6">f</tspan><tspan dy="-1.6"> for pristine</tspan></text>
<line x1="628.3" y1="29.6" x2="642.9" y2="29.6" stroke="#68bb42" stroke-width="2.2" />
<text x="650.6" y="33" font-family="'Liberation Sans', sans-serif" font-size="8.6" font-weight="bold" font-style="normal" text-anchor="start" fill="#68bb42" >SOC</text>
<text x="501.4" y="179.6" font-family="'Liberation Serif', serif" font-size="9.6" font-weight="bold" font-style="normal" text-anchor="middle" fill="#000" >U</text>
<text x="586.4" y="177.6" font-family="'Liberation Serif', serif" font-size="9.6" font-weight="bold" font-style="normal" text-anchor="middle" fill="#000" >L</text>
<text x="679.3" y="177.6" font-family="'Liberation Serif', serif" font-size="9.6" font-weight="bold" font-style="normal" text-anchor="middle" fill="#000" >&#915;</text>
<text transform="translate(486.4,89.8) rotate(-90)" font-family="'Liberation Serif', serif" font-size="11.5" font-weight="bold" text-anchor="middle">Energy (au)</text>
<text x="22.6" y="214.7" font-family="'Liberation Sans', sans-serif" font-size="12.2" font-weight="bold" font-style="normal" text-anchor="start" fill="#000" letter-spacing="-0.4">d)</text>
<rect x="23.5" y="220.6" width="178.9" height="143.2" fill="none" stroke="#000" stroke-width="1.1"/>
<polyline points="28.9,267.86 42.4,332.87 55.9,331.01 69.4,329.72 82.9,328.14 109.9,326.71 136.9,324.13 153.1,319.41 174.7,307.81 190.9,299.07" fill="none" stroke="#ff2222" stroke-width="1.9" stroke-linejoin="round"/>
<circle cx="28.9" cy="267.86" r="3" fill="#ff2222"/>
<circle cx="42.4" cy="332.87" r="3" fill="#ff2222"/>
<circle cx="55.9" cy="331.01" r="3" fill="#ff2222"/>
<circle cx="69.4" cy="329.72" r="3" fill="#ff2222"/>
<circle cx="82.9" cy="328.14" r="3" fill="#ff2222"/>
<circle cx="109.9" cy="326.71" r="3" fill="#ff2222"/>
<circle cx="136.9" cy="324.13" r="3" fill="#ff2222"/>
<circle cx="153.1" cy="319.41" r="3" fill="#ff2222"/>
<circle cx="174.7" cy="307.81" r="3" fill="#ff2222"/>
<circle cx="190.9" cy="299.07" r="3" fill="#ff2222"/>
<polyline points="28.9,226.33 42.4,283.61 55.9,287.9 69.4,292.2 82.9,296.5 109.9,300.79 136.9,306.52 153.1,310.39 174.7,322.27 190.9,342.61" fill="none" stroke="#000" stroke-width="1.9" stroke-linejoin="round"/>
<rect x="26.45" y="223.88" width="4.9" height="4.9" fill="#000"/>
<rect x="39.95" y="281.16" width="4.9" height="4.9" fill="#000"/>
<rect x="53.45" y="285.45" width="4.9" height="4.9" fill="#000"/>
<rect x="66.95" y="289.75" width="4.9" height="4.9" fill="#000"/>
<rect x="80.45" y="294.05" width="4.9" height="4.9" fill="#000"/>
<rect x="107.45" y="298.34" width="4.9" height="4.9" fill="#000"/>
<rect x="134.45" y="304.07" width="4.9" height="4.9" fill="#000"/>
<rect x="150.65" y="307.94" width="4.9" height="4.9" fill="#000"/>
<rect x="172.25" y="319.82" width="4.9" height="4.9" fill="#000"/>
<rect x="188.45" y="340.16" width="4.9" height="4.9" fill="#000"/>
<line x1="28.9" y1="363.8" x2="28.9" y2="361.4" stroke="#000" stroke-width="0.8" />
<text x="28.9" y="374.5" font-family="'Liberation Serif', serif" font-size="8.4" font-weight="bold" font-style="normal" text-anchor="middle" fill="#000" >0.00</text>
<line x1="42.4" y1="363.8" x2="42.4" y2="362.4" stroke="#000" stroke-width="0.8" />
<line x1="55.9" y1="363.8" x2="55.9" y2="361.4" stroke="#000" stroke-width="0.8" />
<text x="55.9" y="374.5" font-family="'Liberation Serif', serif" font-size="8.4" font-weight="bold" font-style="normal" text-anchor="middle" fill="#000" >0.05</text>
<line x1="69.4" y1="363.8" x2="69.4" y2="362.4" stroke="#000" stroke-width="0.8" />
<line x1="82.9" y1="363.8" x2="82.9" y2="361.4" stroke="#000" stroke-width="0.8" />
<text x="82.9" y="374.5" font-family="'Liberation Serif', serif" font-size="8.4" font-weight="bold" font-style="normal" text-anchor="middle" fill="#000" >0.10</text>
<line x1="96.4" y1="363.8" x2="96.4" y2="362.4" stroke="#000" stroke-width="0.8" />
<line x1="109.9" y1="363.8" x2="109.9" y2="361.4" stroke="#000" stroke-width="0.8" />
<text x="109.9" y="374.5" font-family="'Liberation Serif', serif" font-size="8.4" font-weight="bold" font-style="normal" text-anchor="middle" fill="#000" >0.15</text>
<line x1="123.4" y1="363.8" x2="123.4" y2="362.4" stroke="#000" stroke-width="0.8" />
<line x1="136.9" y1="363.8" x2="136.9" y2="361.4" stroke="#000" stroke-width="0.8" />
<text x="136.9" y="374.5" font-family="'Liberation Serif', serif" font-size="8.4" font-weight="bold" font-style="normal" text-anchor="middle" fill="#000" >0.20</text>
<line x1="150.4" y1="363.8" x2="150.4" y2="362.4" stroke="#000" stroke-width="0.8" />
<line x1="163.9" y1="363.8" x2="163.9" y2="361.4" stroke="#000" stroke-width="0.8" />
<text x="163.9" y="374.5" font-family="'Liberation Serif', serif" font-size="8.4" font-weight="bold" font-style="normal" text-anchor="middle" fill="#000" >0.25</text>
<line x1="177.4" y1="363.8" x2="177.4" y2="362.4" stroke="#000" stroke-width="0.8" />
<line x1="190.9" y1="363.8" x2="190.9" y2="361.4" stroke="#000" stroke-width="0.8" />
<text x="190.9" y="374.5" font-family="'Liberation Serif', serif" font-size="8.4" font-weight="bold" font-style="normal" text-anchor="middle" fill="#000" >0.30</text>
<line x1="23.5" y1="363.8" x2="25.9" y2="363.8" stroke="#000" stroke-width="0.8" />
<text x="20.4" y="366.5" font-family="'Liberation Serif', serif" font-size="8.4" font-weight="bold" font-style="normal" text-anchor="end" fill="#000" >0</text>
<line x1="23.5" y1="349.48" x2="24.9" y2="349.48" stroke="#000" stroke-width="0.8" />
<line x1="23.5" y1="335.16" x2="25.9" y2="335.16" stroke="#000" stroke-width="0.8" />
<text x="20.4" y="337.86" font-family="'Liberation Serif', serif" font-size="8.4" font-weight="bold" font-style="normal" text-anchor="end" fill="#000" >2</text>
<line x1="23.5" y1="320.84" x2="24.9" y2="320.84" stroke="#000" stroke-width="0.8" />
<line x1="23.5" y1="306.52" x2="25.9" y2="306.52" stroke="#000" stroke-width="0.8" />
<text x="20.4" y="309.22" font-family="'Liberation Serif', serif" font-size="8.4" font-weight="bold" font-style="normal" text-anchor="end" fill="#000" >4</text>
<line x1="23.5" y1="292.2" x2="24.9" y2="292.2" stroke="#000" stroke-width="0.8" />
<line x1="23.5" y1="277.88" x2="25.9" y2="277.88" stroke="#000" stroke-width="0.8" />
<text x="20.4" y="280.58" font-family="'Liberation Serif', serif" font-size="8.4" font-weight="bold" font-style="normal" text-anchor="end" fill="#000" >6</text>
<line x1="23.5" y1="263.56" x2="24.9" y2="263.56" stroke="#000" stroke-width="0.8" />
<line x1="23.5" y1="249.24" x2="25.9" y2="249.24" stroke="#000" stroke-width="0.8" />
<text x="20.4" y="251.94" font-family="'Liberation Serif', serif" font-size="8.4" font-weight="bold" font-style="normal" text-anchor="end" fill="#000" >8</text>
<line x1="23.5" y1="234.92" x2="24.9" y2="234.92" stroke="#000" stroke-width="0.8" />
<line x1="23.5" y1="220.6" x2="25.9" y2="220.6" stroke="#000" stroke-width="0.8" />
<text x="20.4" y="223.3" font-family="'Liberation Serif', serif" font-size="8.4" font-weight="bold" font-style="normal" text-anchor="end" fill="#000" >10</text>
<text x="110.5" y="386" font-family="'Liberation Serif', serif" font-size="9.4" font-weight="bold" font-style="normal" text-anchor="middle" fill="#000" >Nominal doping (x)</text>
<text transform="translate(11.6,293.6) rotate(-90)" font-family="'Liberation Serif', serif" font-size="10.2" font-weight="bold" text-anchor="middle">n<tspan font-size="6.6" dy="2">h,e</tspan><tspan dy="-2"> (10</tspan><tspan font-size="8" dy="-3.4">19</tspan><tspan dy="3.4">  cm</tspan><tspan font-size="7" dy="-3.4">-3</tspan><tspan dy="3.4">)</tspan></text>
<line x1="46.9" y1="227.6" x2="66.3" y2="227.6" stroke="#000" stroke-width="2" />
<rect x="54.0" y="225.2" width="4.8" height="4.8" fill="#000"/>
<line x1="46.9" y1="239.9" x2="66.3" y2="239.9" stroke="#ff2222" stroke-width="2" />
<circle cx="56.4" cy="239.9" r="3.0" fill="#ff2222"/>
<text x="67.7" y="230.9" font-family="'Liberation Serif', serif" font-size="7.6" font-weight="bold">n<tspan font-size="6" dy="2">h</tspan></text>
<text x="67.7" y="242.8" font-family="'Liberation Serif', serif" font-size="7.6" font-weight="bold">n<tspan font-size="6" dy="2">e</tspan></text>
<text x="42.6" y="261" font-family="'Liberation Serif', serif" font-size="9.2" font-weight="bold">Co<tspan font-size="8" dy="3">3+x</tspan><tspan dy="-3">Sn</tspan><tspan font-size="8" dy="3">2-x</tspan><tspan dy="-3">S</tspan><tspan font-size="8" dy="3">2</tspan></text>
<text x="49.5" y="274.7" font-family="'Liberation Serif', serif" font-size="8.4" font-weight="bold" font-style="normal" text-anchor="start" fill="#000" >T = 2 K</text>
<text x="269.6" y="215.9" font-family="'Liberation Sans', sans-serif" font-size="12.2" font-weight="bold" font-style="normal" text-anchor="start" fill="#000" letter-spacing="-0.4">e)</text>
<rect x="272" y="221" width="178.8" height="144.3" fill="none" stroke="#000" stroke-width="1.1"/>
<polyline points="277.6,358.66 291.1,355.92 304.6,352.1 318.1,347.33 331.6,339.83 358.6,330.45 385.6,285.57 401.8,260.11 423.4,235.86 439.6,256.64" fill="none" stroke="#ff2222" stroke-width="1.9" stroke-linejoin="round"/>
<circle cx="277.6" cy="358.66" r="3" fill="#ff2222"/>
<circle cx="291.1" cy="355.92" r="3" fill="#ff2222"/>
<circle cx="304.6" cy="352.1" r="3" fill="#ff2222"/>
<circle cx="318.1" cy="347.33" r="3" fill="#ff2222"/>
<circle cx="331.6" cy="339.83" r="3" fill="#ff2222"/>
<circle cx="358.6" cy="330.45" r="3" fill="#ff2222"/>
<circle cx="385.6" cy="285.57" r="3" fill="#ff2222"/>
<circle cx="401.8" cy="260.11" r="3" fill="#ff2222"/>
<circle cx="423.4" cy="235.86" r="3" fill="#ff2222"/>
<circle cx="439.6" cy="256.64" r="3" fill="#ff2222"/>
<polyline points="277.6,360.32 291.1,359.6 304.6,356.79 318.1,353.25 331.6,347.7 358.6,340.34 385.6,309.46 401.8,292.57 423.4,275.4 439.6,297.84" fill="none" stroke="#000" stroke-width="1.9" stroke-linejoin="round"/>
<rect x="275.15" y="357.87" width="4.9" height="4.9" fill="#000"/>
<rect x="288.65" y="357.15" width="4.9" height="4.9" fill="#000"/>
<rect x="302.15" y="354.34" width="4.9" height="4.9" fill="#000"/>
<rect x="315.65" y="350.8" width="4.9" height="4.9" fill="#000"/>
<rect x="329.15" y="345.25" width="4.9" height="4.9" fill="#000"/>
<rect x="356.15" y="337.89" width="4.9" height="4.9" fill="#000"/>
<rect x="383.15" y="307.01" width="4.9" height="4.9" fill="#000"/>
<rect x="399.35" y="290.12" width="4.9" height="4.9" fill="#000"/>
<rect x="420.95" y="272.95" width="4.9" height="4.9" fill="#000"/>
<rect x="437.15" y="295.39" width="4.9" height="4.9" fill="#000"/>
<line x1="277.6" y1="365.3" x2="277.6" y2="362.9" stroke="#000" stroke-width="0.8" />
<text x="277.6" y="375" font-family="'Liberation Serif', serif" font-size="8.4" font-weight="bold" font-style="normal" text-anchor="middle" fill="#000" >0.00</text>
<line x1="291.1" y1="365.3" x2="291.1" y2="363.9" stroke="#000" stroke-width="0.8" />
<line x1="304.6" y1="365.3" x2="304.6" y2="362.9" stroke="#000" stroke-width="0.8" />
<text x="304.6" y="375" font-family="'Liberation Serif', serif" font-size="8.4" font-weight="bold" font-style="normal" text-anchor="middle" fill="#000" >0.05</text>
<line x1="318.1" y1="365.3" x2="318.1" y2="363.9" stroke="#000" stroke-width="0.8" />
<line x1="331.6" y1="365.3" x2="331.6" y2="362.9" stroke="#000" stroke-width="0.8" />
<text x="331.6" y="375" font-family="'Liberation Serif', serif" font-size="8.4" font-weight="bold" font-style="normal" text-anchor="middle" fill="#000" >0.10</text>
<line x1="345.1" y1="365.3" x2="345.1" y2="363.9" stroke="#000" stroke-width="0.8" />
<line x1="358.6" y1="365.3" x2="358.6" y2="362.9" stroke="#000" stroke-width="0.8" />
<text x="358.6" y="375" font-family="'Liberation Serif', serif" font-size="8.4" font-weight="bold" font-style="normal" text-anchor="middle" fill="#000" >0.15</text>
<line x1="372.1" y1="365.3" x2="372.1" y2="363.9" stroke="#000" stroke-width="0.8" />
<line x1="385.6" y1="365.3" x2="385.6" y2="362.9" stroke="#000" stroke-width="0.8" />
<text x="385.6" y="375" font-family="'Liberation Serif', serif" font-size="8.4" font-weight="bold" font-style="normal" text-anchor="middle" fill="#000" >0.20</text>
<line x1="399.1" y1="365.3" x2="399.1" y2="363.9" stroke="#000" stroke-width="0.8" />
<line x1="412.6" y1="365.3" x2="412.6" y2="362.9" stroke="#000" stroke-width="0.8" />
<text x="412.6" y="375" font-family="'Liberation Serif', serif" font-size="8.4" font-weight="bold" font-style="normal" text-anchor="middle" fill="#000" >0.25</text>
<line x1="426.1" y1="365.3" x2="426.1" y2="363.9" stroke="#000" stroke-width="0.8" />
<line x1="439.6" y1="365.3" x2="439.6" y2="362.9" stroke="#000" stroke-width="0.8" />
<text x="439.6" y="375" font-family="'Liberation Serif', serif" font-size="8.4" font-weight="bold" font-style="normal" text-anchor="middle" fill="#000" >0.30</text>
<line x1="272" y1="365.3" x2="274.4" y2="365.3" stroke="#000" stroke-width="0.8" />
<text x="269.3" y="368" font-family="'Liberation Serif', serif" font-size="8.4" font-weight="bold" font-style="normal" text-anchor="end" fill="#000" >0</text>
<line x1="272" y1="347.26" x2="273.4" y2="347.26" stroke="#000" stroke-width="0.8" />
<line x1="272" y1="329.23" x2="274.4" y2="329.23" stroke="#000" stroke-width="0.8" />
<text x="269.3" y="331.93" font-family="'Liberation Serif', serif" font-size="8.4" font-weight="bold" font-style="normal" text-anchor="end" fill="#000" >5</text>
<line x1="272" y1="311.19" x2="273.4" y2="311.19" stroke="#000" stroke-width="0.8" />
<line x1="272" y1="293.15" x2="274.4" y2="293.15" stroke="#000" stroke-width="0.8" />
<text x="269.3" y="295.85" font-family="'Liberation Serif', serif" font-size="8.4" font-weight="bold" font-style="normal" text-anchor="end" fill="#000" >10</text>
<line x1="272" y1="275.11" x2="273.4" y2="275.11" stroke="#000" stroke-width="0.8" />
<line x1="272" y1="257.08" x2="274.4" y2="257.08" stroke="#000" stroke-width="0.8" />
<text x="269.3" y="259.78" font-family="'Liberation Serif', serif" font-size="8.4" font-weight="bold" font-style="normal" text-anchor="end" fill="#000" >15</text>
<line x1="272" y1="239.04" x2="273.4" y2="239.04" stroke="#000" stroke-width="0.8" />
<line x1="272" y1="221" x2="274.4" y2="221" stroke="#000" stroke-width="0.8" />
<text x="269.3" y="223.7" font-family="'Liberation Serif', serif" font-size="8.4" font-weight="bold" font-style="normal" text-anchor="end" fill="#000" >20</text>
<text x="357.4" y="387.8" font-family="'Liberation Serif', serif" font-size="9.4" font-weight="bold" font-style="normal" text-anchor="middle" fill="#000" >Nominal doping (x)</text>
<text transform="translate(256.0,288) rotate(-90)" font-family="'Liberation Serif', serif" font-size="9.2" font-weight="bold" text-anchor="middle">&#956;<tspan font-size="6.6" dy="2">h,e</tspan><tspan dy="-2"> (10</tspan><tspan font-size="7.6" dy="-3.4">3</tspan><tspan dy="3.4">  cm</tspan><tspan font-size="6.4" dy="-3.2">2</tspan><tspan dy="3.2">V</tspan><tspan font-size="6.4" dy="-3.2">-1</tspan><tspan dy="3.2">s</tspan><tspan font-size="6.4" dy="-3.2">-1</tspan><tspan dy="3.2">)</tspan></text>
<line x1="283.9" y1="234.3" x2="303.3" y2="234.3" stroke="#000" stroke-width="2" />
<rect x="291.2" y="231.9" width="4.8" height="4.8" fill="#000"/>
<line x1="283.9" y1="247.3" x2="303.3" y2="247.3" stroke="#ff2222" stroke-width="2" />
<circle cx="293.6" cy="247.3" r="3.0" fill="#ff2222"/>
<text x="304.6" y="237.4" font-family="'Liberation Serif', serif" font-size="7.4" font-weight="bold">&#956;<tspan font-size="6" dy="1.9">h</tspan></text>
<text x="304.6" y="250.4" font-family="'Liberation Serif', serif" font-size="7.4" font-weight="bold">&#956;<tspan font-size="6" dy="1.9">e</tspan></text>
<text x="332.2" y="234.5" font-family="'Liberation Serif', serif" font-size="9.0" font-weight="bold">Co<tspan font-size="8.8" dy="3.8">3+x</tspan><tspan dy="-3.8">Sn</tspan><tspan font-size="8.8" dy="3.8">2-x</tspan><tspan dy="-3.8">S</tspan><tspan font-size="8.8" dy="3.8">2</tspan></text>
<text x="284.9" y="263.4" font-family="'Liberation Serif', serif" font-size="8" font-weight="bold" font-style="normal" text-anchor="start" fill="#000" >T = 2 K</text>
<text x="500.6" y="214.3" font-family="'Liberation Sans', sans-serif" font-size="12.2" font-weight="bold" font-style="normal" text-anchor="start" fill="#000" letter-spacing="-0.4">f)</text>
<ellipse cx="545.7" cy="329.6" rx="38.5" ry="17.8" transform="rotate(-39.9 545.7 329.6)" fill="rgb(239,201,153)" fill-opacity="0.5"/>
<ellipse cx="625.6" cy="283.5" rx="66.4" ry="42.4" transform="rotate(-53.1 625.6 283.5)" fill="rgb(199,151,255)" fill-opacity="0.5"/>
<rect x="498.4" y="219.3" width="179.2" height="144.2" fill="none" stroke="#000" stroke-width="1.1"/>
<line x1="498.4" y1="363.5" x2="498.4" y2="361.1" stroke="#000" stroke-width="0.7" />
<line x1="498.4" y1="219.3" x2="498.4" y2="221.7" stroke="#000" stroke-width="0.7" />
<line x1="508.24" y1="363.5" x2="508.24" y2="362.2" stroke="#000" stroke-width="0.7" />
<line x1="508.24" y1="219.3" x2="508.24" y2="220.6" stroke="#000" stroke-width="0.7" />
<line x1="514" y1="363.5" x2="514" y2="362.2" stroke="#000" stroke-width="0.7" />
<line x1="514" y1="219.3" x2="514" y2="220.6" stroke="#000" stroke-width="0.7" />
<line x1="518.09" y1="363.5" x2="518.09" y2="362.2" stroke="#000" stroke-width="0.7" />
<line x1="518.09" y1="219.3" x2="518.09" y2="220.6" stroke="#000" stroke-width="0.7" />
<line x1="521.26" y1="363.5" x2="521.26" y2="362.2" stroke="#000" stroke-width="0.7" />
<line x1="521.26" y1="219.3" x2="521.26" y2="220.6" stroke="#000" stroke-width="0.7" />
<line x1="523.85" y1="363.5" x2="523.85" y2="362.2" stroke="#000" stroke-width="0.7" />
<line x1="523.85" y1="219.3" x2="523.85" y2="220.6" stroke="#000" stroke-width="0.7" />
<line x1="526.03" y1="363.5" x2="526.03" y2="362.2" stroke="#000" stroke-width="0.7" />
<line x1="526.03" y1="219.3" x2="526.03" y2="220.6" stroke="#000" stroke-width="0.7" />
<line x1="527.93" y1="363.5" x2="527.93" y2="362.2" stroke="#000" stroke-width="0.7" />
<line x1="527.93" y1="219.3" x2="527.93" y2="220.6" stroke="#000" stroke-width="0.7" />
<line x1="529.6" y1="363.5" x2="529.6" y2="362.2" stroke="#000" stroke-width="0.7" />
<line x1="529.6" y1="219.3" x2="529.6" y2="220.6" stroke="#000" stroke-width="0.7" />
<line x1="531.1" y1="363.5" x2="531.1" y2="361.1" stroke="#000" stroke-width="0.7" />
<line x1="531.1" y1="219.3" x2="531.1" y2="221.7" stroke="#000" stroke-width="0.7" />
<line x1="540.94" y1="363.5" x2="540.94" y2="362.2" stroke="#000" stroke-width="0.7" />
<line x1="540.94" y1="219.3" x2="540.94" y2="220.6" stroke="#000" stroke-width="0.7" />
<line x1="546.7" y1="363.5" x2="546.7" y2="362.2" stroke="#000" stroke-width="0.7" />
<line x1="546.7" y1="219.3" x2="546.7" y2="220.6" stroke="#000" stroke-width="0.7" />
<line x1="550.79" y1="363.5" x2="550.79" y2="362.2" stroke="#000" stroke-width="0.7" />
<line x1="550.79" y1="219.3" x2="550.79" y2="220.6" stroke="#000" stroke-width="0.7" />
<line x1="553.96" y1="363.5" x2="553.96" y2="362.2" stroke="#000" stroke-width="0.7" />
<line x1="553.96" y1="219.3" x2="553.96" y2="220.6" stroke="#000" stroke-width="0.7" />
<line x1="556.55" y1="363.5" x2="556.55" y2="362.2" stroke="#000" stroke-width="0.7" />
<line x1="556.55" y1="219.3" x2="556.55" y2="220.6" stroke="#000" stroke-width="0.7" />
<line x1="558.73" y1="363.5" x2="558.73" y2="362.2" stroke="#000" stroke-width="0.7" />
<line x1="558.73" y1="219.3" x2="558.73" y2="220.6" stroke="#000" stroke-width="0.7" />
<line x1="560.63" y1="363.5" x2="560.63" y2="362.2" stroke="#000" stroke-width="0.7" />
<line x1="560.63" y1="219.3" x2="560.63" y2="220.6" stroke="#000" stroke-width="0.7" />
<line x1="562.3" y1="363.5" x2="562.3" y2="362.2" stroke="#000" stroke-width="0.7" />
<line x1="562.3" y1="219.3" x2="562.3" y2="220.6" stroke="#000" stroke-width="0.7" />
<line x1="563.8" y1="363.5" x2="563.8" y2="361.1" stroke="#000" stroke-width="0.7" />
<line x1="563.8" y1="219.3" x2="563.8" y2="221.7" stroke="#000" stroke-width="0.7" />
<line x1="573.64" y1="363.5" x2="573.64" y2="362.2" stroke="#000" stroke-width="0.7" />
<line x1="573.64" y1="219.3" x2="573.64" y2="220.6" stroke="#000" stroke-width="0.7" />
<line x1="579.4" y1="363.5" x2="579.4" y2="362.2" stroke="#000" stroke-width="0.7" />
<line x1="579.4" y1="219.3" x2="579.4" y2="220.6" stroke="#000" stroke-width="0.7" />
<line x1="583.49" y1="363.5" x2="583.49" y2="362.2" stroke="#000" stroke-width="0.7" />
<line x1="583.49" y1="219.3" x2="583.49" y2="220.6" stroke="#000" stroke-width="0.7" />
<line x1="586.66" y1="363.5" x2="586.66" y2="362.2" stroke="#000" stroke-width="0.7" />
<line x1="586.66" y1="219.3" x2="586.66" y2="220.6" stroke="#000" stroke-width="0.7" />
<line x1="589.25" y1="363.5" x2="589.25" y2="362.2" stroke="#000" stroke-width="0.7" />
<line x1="589.25" y1="219.3" x2="589.25" y2="220.6" stroke="#000" stroke-width="0.7" />
<line x1="591.43" y1="363.5" x2="591.43" y2="362.2" stroke="#000" stroke-width="0.7" />
<line x1="591.43" y1="219.3" x2="591.43" y2="220.6" stroke="#000" stroke-width="0.7" />
<line x1="593.33" y1="363.5" x2="593.33" y2="362.2" stroke="#000" stroke-width="0.7" />
<line x1="593.33" y1="219.3" x2="593.33" y2="220.6" stroke="#000" stroke-width="0.7" />
<line x1="595" y1="363.5" x2="595" y2="362.2" stroke="#000" stroke-width="0.7" />
<line x1="595" y1="219.3" x2="595" y2="220.6" stroke="#000" stroke-width="0.7" />
<line x1="596.5" y1="363.5" x2="596.5" y2="361.1" stroke="#000" stroke-width="0.7" />
<line x1="596.5" y1="219.3" x2="596.5" y2="221.7" stroke="#000" stroke-width="0.7" />
<line x1="606.34" y1="363.5" x2="606.34" y2="362.2" stroke="#000" stroke-width="0.7" />
<line x1="606.34" y1="219.3" x2="606.34" y2="220.6" stroke="#000" stroke-width="0.7" />
<line x1="612.1" y1="363.5" x2="612.1" y2="362.2" stroke="#000" stroke-width="0.7" />
<line x1="612.1" y1="219.3" x2="612.1" y2="220.6" stroke="#000" stroke-width="0.7" />
<line x1="616.19" y1="363.5" x2="616.19" y2="362.2" stroke="#000" stroke-width="0.7" />
<line x1="616.19" y1="219.3" x2="616.19" y2="220.6" stroke="#000" stroke-width="0.7" />
<line x1="619.36" y1="363.5" x2="619.36" y2="362.2" stroke="#000" stroke-width="0.7" />
<line x1="619.36" y1="219.3" x2="619.36" y2="220.6" stroke="#000" stroke-width="0.7" />
<line x1="621.95" y1="363.5" x2="621.95" y2="362.2" stroke="#000" stroke-width="0.7" />
<line x1="621.95" y1="219.3" x2="621.95" y2="220.6" stroke="#000" stroke-width="0.7" />
<line x1="624.13" y1="363.5" x2="624.13" y2="362.2" stroke="#000" stroke-width="0.7" />
<line x1="624.13" y1="219.3" x2="624.13" y2="220.6" stroke="#000" stroke-width="0.7" />
<line x1="626.03" y1="363.5" x2="626.03" y2="362.2" stroke="#000" stroke-width="0.7" />
<line x1="626.03" y1="219.3" x2="626.03" y2="220.6" stroke="#000" stroke-width="0.7" />
<line x1="627.7" y1="363.5" x2="627.7" y2="362.2" stroke="#000" stroke-width="0.7" />
<line x1="627.7" y1="219.3" x2="627.7" y2="220.6" stroke="#000" stroke-width="0.7" />
<line x1="629.2" y1="363.5" x2="629.2" y2="361.1" stroke="#000" stroke-width="0.7" />
<line x1="629.2" y1="219.3" x2="629.2" y2="221.7" stroke="#000" stroke-width="0.7" />
<line x1="639.04" y1="363.5" x2="639.04" y2="362.2" stroke="#000" stroke-width="0.7" />
<line x1="639.04" y1="219.3" x2="639.04" y2="220.6" stroke="#000" stroke-width="0.7" />
<line x1="644.8" y1="363.5" x2="644.8" y2="362.2" stroke="#000" stroke-width="0.7" />
<line x1="644.8" y1="219.3" x2="644.8" y2="220.6" stroke="#000" stroke-width="0.7" />
<line x1="648.89" y1="363.5" x2="648.89" y2="362.2" stroke="#000" stroke-width="0.7" />
<line x1="648.89" y1="219.3" x2="648.89" y2="220.6" stroke="#000" stroke-width="0.7" />
<line x1="652.06" y1="363.5" x2="652.06" y2="362.2" stroke="#000" stroke-width="0.7" />
<line x1="652.06" y1="219.3" x2="652.06" y2="220.6" stroke="#000" stroke-width="0.7" />
<line x1="654.65" y1="363.5" x2="654.65" y2="362.2" stroke="#000" stroke-width="0.7" />
<line x1="654.65" y1="219.3" x2="654.65" y2="220.6" stroke="#000" stroke-width="0.7" />
<line x1="656.83" y1="363.5" x2="656.83" y2="362.2" stroke="#000" stroke-width="0.7" />
<line x1="656.83" y1="219.3" x2="656.83" y2="220.6" stroke="#000" stroke-width="0.7" />
<line x1="658.73" y1="363.5" x2="658.73" y2="362.2" stroke="#000" stroke-width="0.7" />
<line x1="658.73" y1="219.3" x2="658.73" y2="220.6" stroke="#000" stroke-width="0.7" />
<line x1="660.4" y1="363.5" x2="660.4" y2="362.2" stroke="#000" stroke-width="0.7" />
<line x1="660.4" y1="219.3" x2="660.4" y2="220.6" stroke="#000" stroke-width="0.7" />
<line x1="661.9" y1="363.5" x2="661.9" y2="361.1" stroke="#000" stroke-width="0.7" />
<line x1="661.9" y1="219.3" x2="661.9" y2="221.7" stroke="#000" stroke-width="0.7" />
<line x1="671.74" y1="363.5" x2="671.74" y2="362.2" stroke="#000" stroke-width="0.7" />
<line x1="671.74" y1="219.3" x2="671.74" y2="220.6" stroke="#000" stroke-width="0.7" />
<line x1="498.4" y1="362.48" x2="499.7" y2="362.48" stroke="#000" stroke-width="0.7" />
<line x1="677.6" y1="362.48" x2="676.3" y2="362.48" stroke="#000" stroke-width="0.7" />
<line x1="498.4" y1="361.3" x2="500.8" y2="361.3" stroke="#000" stroke-width="0.7" />
<line x1="677.6" y1="361.3" x2="675.2" y2="361.3" stroke="#000" stroke-width="0.7" />
<line x1="498.4" y1="353.56" x2="499.7" y2="353.56" stroke="#000" stroke-width="0.7" />
<line x1="677.6" y1="353.56" x2="676.3" y2="353.56" stroke="#000" stroke-width="0.7" />
<line x1="498.4" y1="349.03" x2="499.7" y2="349.03" stroke="#000" stroke-width="0.7" />
<line x1="677.6" y1="349.03" x2="676.3" y2="349.03" stroke="#000" stroke-width="0.7" />
<line x1="498.4" y1="345.82" x2="499.7" y2="345.82" stroke="#000" stroke-width="0.7" />
<line x1="677.6" y1="345.82" x2="676.3" y2="345.82" stroke="#000" stroke-width="0.7" />
<line x1="498.4" y1="343.32" x2="499.7" y2="343.32" stroke="#000" stroke-width="0.7" />
<line x1="677.6" y1="343.32" x2="676.3" y2="343.32" stroke="#000" stroke-width="0.7" />
<line x1="498.4" y1="341.29" x2="499.7" y2="341.29" stroke="#000" stroke-width="0.7" />
<line x1="677.6" y1="341.29" x2="676.3" y2="341.29" stroke="#000" stroke-width="0.7" />
<line x1="498.4" y1="339.56" x2="499.7" y2="339.56" stroke="#000" stroke-width="0.7" />
<line x1="677.6" y1="339.56" x2="676.3" y2="339.56" stroke="#000" stroke-width="0.7" />
<line x1="498.4" y1="338.07" x2="499.7" y2="338.07" stroke="#000" stroke-width="0.7" />
<line x1="677.6" y1="338.07" x2="676.3" y2="338.07" stroke="#000" stroke-width="0.7" />
<line x1="498.4" y1="336.76" x2="499.7" y2="336.76" stroke="#000" stroke-width="0.7" />
<line x1="677.6" y1="336.76" x2="676.3" y2="336.76" stroke="#000" stroke-width="0.7" />
<line x1="498.4" y1="335.58" x2="500.8" y2="335.58" stroke="#000" stroke-width="0.7" />
<line x1="677.6" y1="335.58" x2="675.2" y2="335.58" stroke="#000" stroke-width="0.7" />
<line x1="498.4" y1="327.84" x2="499.7" y2="327.84" stroke="#000" stroke-width="0.7" />
<line x1="677.6" y1="327.84" x2="676.3" y2="327.84" stroke="#000" stroke-width="0.7" />
<line x1="498.4" y1="323.31" x2="499.7" y2="323.31" stroke="#000" stroke-width="0.7" />
<line x1="677.6" y1="323.31" x2="676.3" y2="323.31" stroke="#000" stroke-width="0.7" />
<line x1="498.4" y1="320.1" x2="499.7" y2="320.1" stroke="#000" stroke-width="0.7" />
<line x1="677.6" y1="320.1" x2="676.3" y2="320.1" stroke="#000" stroke-width="0.7" />
<line x1="498.4" y1="317.6" x2="499.7" y2="317.6" stroke="#000" stroke-width="0.7" />
<line x1="677.6" y1="317.6" x2="676.3" y2="317.6" stroke="#000" stroke-width="0.7" />
<line x1="498.4" y1="315.57" x2="499.7" y2="315.57" stroke="#000" stroke-width="0.7" />
<line x1="677.6" y1="315.57" x2="676.3" y2="315.57" stroke="#000" stroke-width="0.7" />
<line x1="498.4" y1="313.84" x2="499.7" y2="313.84" stroke="#000" stroke-width="0.7" />
<line x1="677.6" y1="313.84" x2="676.3" y2="313.84" stroke="#000" stroke-width="0.7" />
<line x1="498.4" y1="312.35" x2="499.7" y2="312.35" stroke="#000" stroke-width="0.7" />
<line x1="677.6" y1="312.35" x2="676.3" y2="312.35" stroke="#000" stroke-width="0.7" />
<line x1="498.4" y1="311.04" x2="499.7" y2="311.04" stroke="#000" stroke-width="0.7" />
<line x1="677.6" y1="311.04" x2="676.3" y2="311.04" stroke="#000" stroke-width="0.7" />
<line x1="498.4" y1="309.86" x2="500.8" y2="309.86" stroke="#000" stroke-width="0.7" />
<line x1="677.6" y1="309.86" x2="675.2" y2="309.86" stroke="#000" stroke-width="0.7" />
<line x1="498.4" y1="302.12" x2="499.7" y2="302.12" stroke="#000" stroke-width="0.7" />
<line x1="677.6" y1="302.12" x2="676.3" y2="302.12" stroke="#000" stroke-width="0.7" />
<line x1="498.4" y1="297.59" x2="499.7" y2="297.59" stroke="#000" stroke-width="0.7" />
<line x1="677.6" y1="297.59" x2="676.3" y2="297.59" stroke="#000" stroke-width="0.7" />
<line x1="498.4" y1="294.38" x2="499.7" y2="294.38" stroke="#000" stroke-width="0.7" />
<line x1="677.6" y1="294.38" x2="676.3" y2="294.38" stroke="#000" stroke-width="0.7" />
<line x1="498.4" y1="291.88" x2="499.7" y2="291.88" stroke="#000" stroke-width="0.7" />
<line x1="677.6" y1="291.88" x2="676.3" y2="291.88" stroke="#000" stroke-width="0.7" />
<line x1="498.4" y1="289.85" x2="499.7" y2="289.85" stroke="#000" stroke-width="0.7" />
<line x1="677.6" y1="289.85" x2="676.3" y2="289.85" stroke="#000" stroke-width="0.7" />
<line x1="498.4" y1="288.12" x2="499.7" y2="288.12" stroke="#000" stroke-width="0.7" />
<line x1="677.6" y1="288.12" x2="676.3" y2="288.12" stroke="#000" stroke-width="0.7" />
<line x1="498.4" y1="286.63" x2="499.7" y2="286.63" stroke="#000" stroke-width="0.7" />
<line x1="677.6" y1="286.63" x2="676.3" y2="286.63" stroke="#000" stroke-width="0.7" />
<line x1="498.4" y1="285.32" x2="499.7" y2="285.32" stroke="#000" stroke-width="0.7" />
<line x1="677.6" y1="285.32" x2="676.3" y2="285.32" stroke="#000" stroke-width="0.7" />
<line x1="498.4" y1="284.14" x2="500.8" y2="284.14" stroke="#000" stroke-width="0.7" />
<line x1="677.6" y1="284.14" x2="675.2" y2="284.14" stroke="#000" stroke-width="0.7" />
<line x1="498.4" y1="276.4" x2="499.7" y2="276.4" stroke="#000" stroke-width="0.7" />
<line x1="677.6" y1="276.4" x2="676.3" y2="276.4" stroke="#000" stroke-width="0.7" />
<line x1="498.4" y1="271.87" x2="499.7" y2="271.87" stroke="#000" stroke-width="0.7" />
<line x1="677.6" y1="271.87" x2="676.3" y2="271.87" stroke="#000" stroke-width="0.7" />
<line x1="498.4" y1="268.66" x2="499.7" y2="268.66" stroke="#000" stroke-width="0.7" />
<line x1="677.6" y1="268.66" x2="676.3" y2="268.66" stroke="#000" stroke-width="0.7" />
<line x1="498.4" y1="266.16" x2="499.7" y2="266.16" stroke="#000" stroke-width="0.7" />
<line x1="677.6" y1="266.16" x2="676.3" y2="266.16" stroke="#000" stroke-width="0.7" />
<line x1="498.4" y1="264.13" x2="499.7" y2="264.13" stroke="#000" stroke-width="0.7" />
<line x1="677.6" y1="264.13" x2="676.3" y2="264.13" stroke="#000" stroke-width="0.7" />
<line x1="498.4" y1="262.4" x2="499.7" y2="262.4" stroke="#000" stroke-width="0.7" />
<line x1="677.6" y1="262.4" x2="676.3" y2="262.4" stroke="#000" stroke-width="0.7" />
<line x1="498.4" y1="260.91" x2="499.7" y2="260.91" stroke="#000" stroke-width="0.7" />
<line x1="677.6" y1="260.91" x2="676.3" y2="260.91" stroke="#000" stroke-width="0.7" />
<line x1="498.4" y1="259.6" x2="499.7" y2="259.6" stroke="#000" stroke-width="0.7" />
<line x1="677.6" y1="259.6" x2="676.3" y2="259.6" stroke="#000" stroke-width="0.7" />
<line x1="498.4" y1="258.42" x2="500.8" y2="258.42" stroke="#000" stroke-width="0.7" />
<line x1="677.6" y1="258.42" x2="675.2" y2="258.42" stroke="#000" stroke-width="0.7" />
<line x1="498.4" y1="250.68" x2="499.7" y2="250.68" stroke="#000" stroke-width="0.7" />
<line x1="677.6" y1="250.68" x2="676.3" y2="250.68" stroke="#000" stroke-width="0.7" />
<line x1="498.4" y1="246.15" x2="499.7" y2="246.15" stroke="#000" stroke-width="0.7" />
<line x1="677.6" y1="246.15" x2="676.3" y2="246.15" stroke="#000" stroke-width="0.7" />
<line x1="498.4" y1="242.94" x2="499.7" y2="242.94" stroke="#000" stroke-width="0.7" />
<line x1="677.6" y1="242.94" x2="676.3" y2="242.94" stroke="#000" stroke-width="0.7" />
<line x1="498.4" y1="240.44" x2="499.7" y2="240.44" stroke="#000" stroke-width="0.7" />
<line x1="677.6" y1="240.44" x2="676.3" y2="240.44" stroke="#000" stroke-width="0.7" />
<line x1="498.4" y1="238.41" x2="499.7" y2="238.41" stroke="#000" stroke-width="0.7" />
<line x1="677.6" y1="238.41" x2="676.3" y2="238.41" stroke="#000" stroke-width="0.7" />
<line x1="498.4" y1="236.68" x2="499.7" y2="236.68" stroke="#000" stroke-width="0.7" />
<line x1="677.6" y1="236.68" x2="676.3" y2="236.68" stroke="#000" stroke-width="0.7" />
<line x1="498.4" y1="235.19" x2="499.7" y2="235.19" stroke="#000" stroke-width="0.7" />
<line x1="677.6" y1="235.19" x2="676.3" y2="235.19" stroke="#000" stroke-width="0.7" />
<line x1="498.4" y1="233.88" x2="499.7" y2="233.88" stroke="#000" stroke-width="0.7" />
<line x1="677.6" y1="233.88" x2="676.3" y2="233.88" stroke="#000" stroke-width="0.7" />
<line x1="498.4" y1="232.7" x2="500.8" y2="232.7" stroke="#000" stroke-width="0.7" />
<line x1="677.6" y1="232.7" x2="675.2" y2="232.7" stroke="#000" stroke-width="0.7" />
<line x1="498.4" y1="224.96" x2="499.7" y2="224.96" stroke="#000" stroke-width="0.7" />
<line x1="677.6" y1="224.96" x2="676.3" y2="224.96" stroke="#000" stroke-width="0.7" />
<line x1="498.4" y1="220.43" x2="499.7" y2="220.43" stroke="#000" stroke-width="0.7" />
<line x1="677.6" y1="220.43" x2="676.3" y2="220.43" stroke="#000" stroke-width="0.7" />
<text x="498.8" y="374.4" font-family="'Liberation Serif', serif" font-size="8.2" font-weight="bold" text-anchor="middle">10<tspan font-size="5.0" dy="-3.2">2</tspan></text>
<text x="531.5" y="374.4" font-family="'Liberation Serif', serif" font-size="8.2" font-weight="bold" text-anchor="middle">10<tspan font-size="5.0" dy="-3.2">3</tspan></text>
<text x="564.2" y="374.4" font-family="'Liberation Serif', serif" font-size="8.2" font-weight="bold" text-anchor="middle">10<tspan font-size="5.0" dy="-3.2">4</tspan></text>
<text x="596.9" y="374.4" font-family="'Liberation Serif', serif" font-size="8.2" font-weight="bold" text-anchor="middle">10<tspan font-size="5.0" dy="-3.2">5</tspan></text>
<text x="629.6" y="374.4" font-family="'Liberation Serif', serif" font-size="8.2" font-weight="bold" text-anchor="middle">10<tspan font-size="5.0" dy="-3.2">6</tspan></text>
<text x="662.3" y="374.4" font-family="'Liberation Serif', serif" font-size="8.2" font-weight="bold" text-anchor="middle">10<tspan font-size="5.0" dy="-3.2">7</tspan></text>
<text x="494.6" y="364" font-family="'Liberation Serif', serif" font-size="8.2" font-weight="bold" text-anchor="end">10<tspan font-size="5.0" dy="-3.2">1</tspan></text>
<text x="494.6" y="338.28" font-family="'Liberation Serif', serif" font-size="8.2" font-weight="bold" text-anchor="end">10<tspan font-size="5.0" dy="-3.2">2</tspan></text>
<text x="494.6" y="312.56" font-family="'Liberation Serif', serif" font-size="8.2" font-weight="bold" text-anchor="end">10<tspan font-size="5.0" dy="-3.2">3</tspan></text>
<text x="494.6" y="286.84" font-family="'Liberation Serif', serif" font-size="8.2" font-weight="bold" text-anchor="end">10<tspan font-size="5.0" dy="-3.2">4</tspan></text>
<text x="494.6" y="261.12" font-family="'Liberation Serif', serif" font-size="8.2" font-weight="bold" text-anchor="end">10<tspan font-size="5.0" dy="-3.2">5</tspan></text>
<text x="494.6" y="235.4" font-family="'Liberation Serif', serif" font-size="8.2" font-weight="bold" text-anchor="end">10<tspan font-size="5.0" dy="-3.2">6</tspan></text>
<circle cx="518.3" cy="353.2" r="2.4" fill="#1e1eff"/>
<circle cx="526.2" cy="351.6" r="2.4" fill="#9b2cff"/>
<circle cx="533.8" cy="335.3" r="2.4" fill="#ff2222"/>
<circle cx="534.8" cy="328.3" r="2.4" fill="#2e8b2e"/>
<circle cx="554.2" cy="324.7" r="2.4" fill="#2a1a10"/>
<circle cx="572.2" cy="307.2" r="2.4" fill="#f08330"/>
<polygon points="579.4,282.4 580.19,284.31 582.25,284.47 580.68,285.82 581.16,287.83 579.4,286.75 577.64,287.83 578.12,285.82 576.55,284.47 578.61,284.31" fill="#7a1530"/>
<polygon points="592.6,304.1 593.39,306.01 595.45,306.17 593.88,307.52 594.36,309.53 592.6,308.45 590.84,309.53 591.32,307.52 589.75,306.17 591.81,306.01" fill="#8a7a3a"/>
<polygon points="604.1,296 604.89,297.91 606.95,298.07 605.38,299.42 605.86,301.43 604.1,300.35 602.34,301.43 602.82,299.42 601.25,298.07 603.31,297.91" fill="#2e8b3e"/>
<polygon points="589.8,329.3 590.59,331.21 592.65,331.37 591.08,332.72 591.56,334.73 589.8,333.65 588.04,334.73 588.52,332.72 586.95,331.37 589.01,331.21" fill="#3a7aa0"/>
<polygon points="602.5,274 603.29,275.91 605.35,276.07 603.78,277.42 604.26,279.43 602.5,278.35 600.74,279.43 601.22,277.42 599.65,276.07 601.71,275.91" fill="#f07035"/>
<polygon points="614.5,245 615.29,246.91 617.35,247.07 615.78,248.42 616.26,250.43 614.5,249.35 612.74,250.43 613.22,248.42 611.65,247.07 613.71,246.91" fill="#ff2a3a"/>
<polygon points="619.6,235.8 620.39,237.71 622.45,237.87 620.88,239.22 621.36,241.23 619.6,240.15 617.84,241.23 618.32,239.22 616.75,237.87 618.81,237.71" fill="#2e8b4e"/>
<polygon points="652.4,230.5 653.19,232.41 655.25,232.57 653.68,233.92 654.16,235.93 652.4,234.85 650.64,235.93 651.12,233.92 649.55,232.57 651.61,232.41" fill="#000"/>
<polygon points="662.1,228.5 662.89,230.41 664.95,230.57 663.38,231.92 663.86,233.93 662.1,232.85 660.34,233.93 660.82,231.92 659.25,230.57 661.31,230.41" fill="#2020ff"/>
<polygon points="660,302.6 660.79,304.51 662.85,304.67 661.28,306.02 661.76,308.03 660,306.95 658.24,308.03 658.72,306.02 657.15,304.67 659.21,304.51" fill="#3a8aa8"/>
<text x="548.4" y="257.8" font-family="'Liberation Serif', serif" font-size="6.6" font-weight="bold" font-style="normal" text-anchor="start" fill="#000" >Our work</text>
<line x1="560.2" y1="259.8" x2="570.4" y2="302" stroke="#000" stroke-width="0.8" />
<path d="M568.7,301.4 L571.2,305.4 L572.0,300.8 Z" fill="#000"/>
<circle cx="507.9" cy="224.1" r="2.4" fill="#000"/>
<text x="513.9" y="225.7" font-family="'Liberation Serif', serif" font-size="4.4" font-weight="bold">MnBi</text>
<circle cx="507.9" cy="229.9" r="2.4" fill="#ff2222"/>
<text x="513.9" y="231.5" font-family="'Liberation Serif', serif" font-size="4.4" font-weight="bold">HgCr<tspan font-size="3.2" dy="1">2</tspan><tspan dy="-1">Se</tspan><tspan font-size="3.2" dy="1">4</tspan></text>
<circle cx="507.9" cy="235.7" r="2.4" fill="#1e1eff"/>
<text x="513.9" y="237.3" font-family="'Liberation Serif', serif" font-size="4.4" font-weight="bold">Fe<tspan font-size="3.2" dy="1">3</tspan><tspan dy="-1">Sn</tspan><tspan font-size="3.2" dy="1">2</tspan></text>
<circle cx="507.9" cy="241.5" r="2.4" fill="#2e8b2e"/>
<text x="513.9" y="243.1" font-family="'Liberation Serif', serif" font-size="4.4" font-weight="bold">GdPtBi</text>
<circle cx="507.9" cy="247.3" r="2.4" fill="#9b2cff"/>
<text x="513.9" y="248.9" font-family="'Liberation Serif', serif" font-size="4.4" font-weight="bold">Co<tspan font-size="3.2" dy="1">3</tspan><tspan dy="-1">Sn</tspan><tspan font-size="3.2" dy="1">2</tspan><tspan dy="-1">S</tspan><tspan font-size="3.2" dy="1">2</tspan></text>
<circle cx="507.9" cy="253.1" r="2.4" fill="#f08330"/>
<text x="513.9" y="254.7" font-family="'Liberation Serif', serif" font-size="4.4" font-weight="bold">Co<tspan font-size="3.2" dy="1">3+x</tspan><tspan dy="-1">Sn</tspan><tspan font-size="3.2" dy="1">2-x</tspan><tspan dy="-1">S</tspan><tspan font-size="3.2" dy="1">2</tspan></text>
<polygon points="507.9,256.5 508.59,258.15 510.37,258.3 509.01,259.46 509.43,261.2 507.9,260.27 506.37,261.2 506.79,259.46 505.43,258.3 507.21,258.15" fill="#3a9a9a"/>
<text x="513.9" y="260.5" font-family="'Liberation Serif', serif" font-size="4.4" font-weight="bold">Graphene</text>
<polygon points="507.9,262.3 508.59,263.95 510.37,264.1 509.01,265.26 509.43,267 507.9,266.07 506.37,267 506.79,265.26 505.43,264.1 507.21,263.95" fill="#7a1530"/>
<text x="513.9" y="266.3" font-family="'Liberation Serif', serif" font-size="4.4" font-weight="bold">ZrSiS</text>
<polygon points="507.9,268.1 508.59,269.75 510.37,269.9 509.01,271.06 509.43,272.8 507.9,271.87 506.37,272.8 506.79,271.06 505.43,269.9 507.21,269.75" fill="#8a8a3a"/>
<text x="513.9" y="272.1" font-family="'Liberation Serif', serif" font-size="4.4" font-weight="bold">Na<tspan font-size="3.2" dy="1">3</tspan><tspan dy="-1">Bi</tspan></text>
<polygon points="507.9,273.9 508.59,275.55 510.37,275.7 509.01,276.86 509.43,278.6 507.9,277.67 506.37,278.6 506.79,276.86 505.43,275.7 507.21,275.55" fill="#f07035"/>
<text x="513.9" y="277.9" font-family="'Liberation Serif', serif" font-size="4.4" font-weight="bold">WTe<tspan font-size="3.2" dy="1">2</tspan></text>
<polygon points="507.9,279.7 508.59,281.35 510.37,281.5 509.01,282.66 509.43,284.4 507.9,283.47 506.37,284.4 506.79,282.66 505.43,281.5 507.21,281.35" fill="#2e9a3e"/>
<text x="513.9" y="283.7" font-family="'Liberation Serif', serif" font-size="4.4" font-weight="bold">TaAs</text>
<polygon points="507.9,285.5 508.59,287.15 510.37,287.3 509.01,288.46 509.43,290.2 507.9,289.27 506.37,290.2 506.79,288.46 505.43,287.3 507.21,287.15" fill="#4aa8a8"/>
<text x="513.9" y="289.5" font-family="'Liberation Serif', serif" font-size="4.4" font-weight="bold">Cd<tspan font-size="3.2" dy="1">3</tspan><tspan dy="-1">As</tspan><tspan font-size="3.2" dy="1">2</tspan></text>
<polygon points="507.9,291.3 508.59,292.95 510.37,293.1 509.01,294.26 509.43,296 507.9,295.07 506.37,296 506.79,294.26 505.43,293.1 507.21,292.95" fill="#000"/>
<text x="513.9" y="295.3" font-family="'Liberation Serif', serif" font-size="4.4" font-weight="bold">NbP</text>
<polygon points="507.9,297.1 508.59,298.75 510.37,298.9 509.01,300.06 509.43,301.8 507.9,300.87 506.37,301.8 506.79,300.06 505.43,298.9 507.21,298.75" fill="#ff2a3a"/>
<text x="513.9" y="301.1" font-family="'Liberation Serif', serif" font-size="4.4" font-weight="bold">NbAs</text>
<polygon points="507.9,302.9 508.59,304.55 510.37,304.7 509.01,305.86 509.43,307.6 507.9,306.67 506.37,307.6 506.79,305.86 505.43,304.7 507.21,304.55" fill="#2020ff"/>
<text x="513.9" y="306.9" font-family="'Liberation Serif', serif" font-size="4.4" font-weight="bold">Bi</text>
<polygon points="507.9,308.7 508.59,310.35 510.37,310.5 509.01,311.66 509.43,313.4 507.9,312.47 506.37,313.4 506.79,311.66 505.43,310.5 507.21,310.35" fill="#3a9a3a"/>
<text x="513.9" y="312.7" font-family="'Liberation Serif', serif" font-size="4.4" font-weight="bold">ZrTe<tspan font-size="3.2" dy="1">5</tspan></text>
<text x="556.6" y="388.4" font-family="'Liberation Serif', serif" font-size="9.6" font-weight="bold" font-style="italic">&#956;<tspan font-size="8.6" dy="0.6">av</tspan><tspan font-size="8.4" dy="-0.6"> (cm</tspan><tspan font-size="9" dy="-3.2">2</tspan><tspan font-size="9" dy="3.2">V</tspan><tspan font-size="8.6" dy="-2.6">-1</tspan><tspan font-size="8.6" dy="3.4">S</tspan><tspan font-size="8.6" dy="-3.2">-1</tspan><tspan font-size="8.6" dy="2.4">)</tspan></text>
<text transform="translate(481.6,290) rotate(-90)" font-family="'Liberation Serif', serif" font-size="9.6" font-weight="bold" font-style="italic" text-anchor="middle">MR (%)@2K@9T</text>
</svg>
</body></html>
